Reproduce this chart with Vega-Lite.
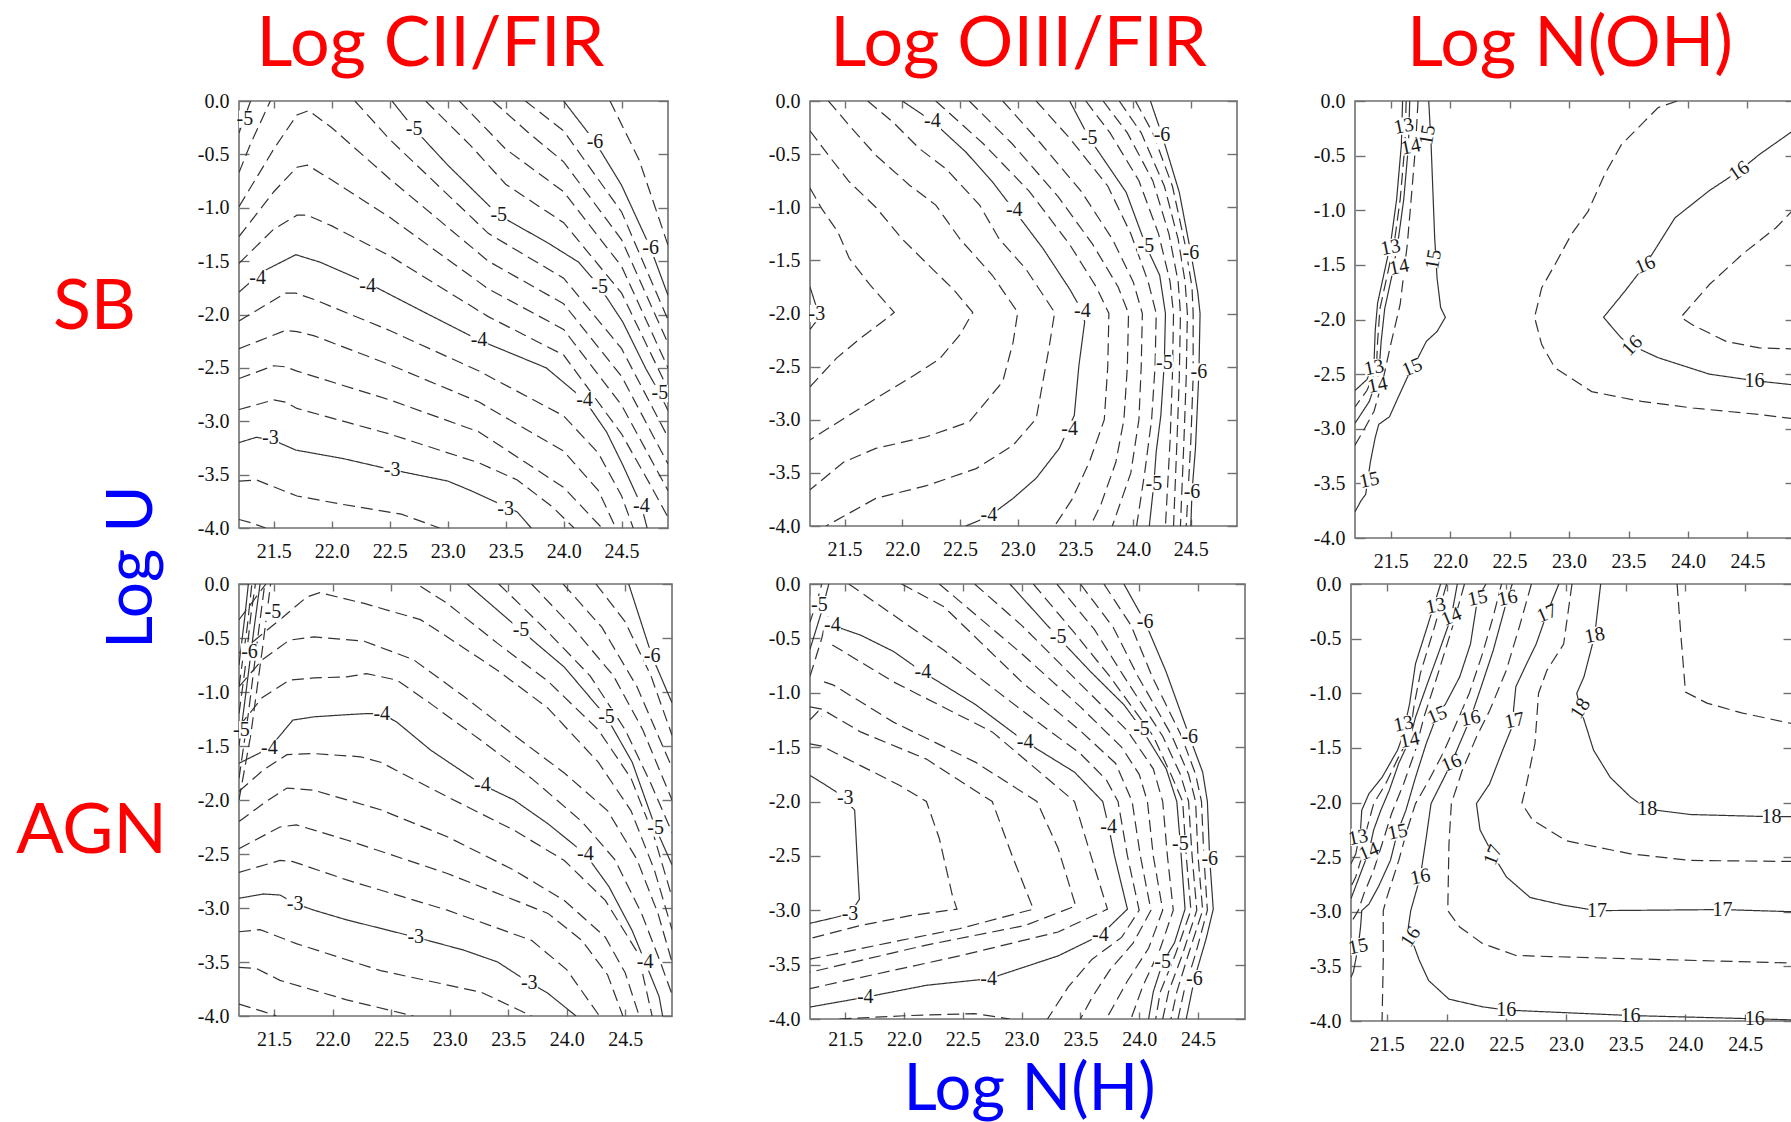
{
"$schema": "https://vega.github.io/schema/vega-lite/v6.json",
"padding": {"left": 14, "top": 9, "right": 0, "bottom": 0},
"background": "#ffffff",
"config": {
 "view": {"stroke": "#707070", "strokeWidth": 1.6},
 "axis": {"domain": false, "grid": false, "tickColor": "#707070", "tickWidth": 1.4, "labelFont": "Liberation Serif", "labelFontSize": 20, "labelColor": "#111111"},
 "locale": {"number": {"decimal": ".", "thousands": ",", "grouping": [3], "currency": ["$", ""], "minus": "-"}}
},
"title": {"text": "Log U", "orient": "left", "anchor": "middle", "frame": "group", "color": "#0000ff", "font": "Lato", "fontSize": 64, "fontWeight": "normal", "baseline": "alphabetic", "offset": -201, "dx": -466},
"datasets": {
"lines": [
{"p":1,"c":"m26","s":"d","x":21.2,"y":-3.92},{"p":1,"c":"m26","s":"d","x":21.3,"y":-3.95},{"p":1,"c":"m26","s":"d","x":21.43,"y":-4.0},
{"p":1,"c":"m28","s":"d","x":21.2,"y":-3.56},{"p":1,"c":"m28","s":"d","x":21.35,"y":-3.55},{"p":1,"c":"m28","s":"d","x":21.7,"y":-3.7},{"p":1,"c":"m28","s":"d","x":22.1,"y":-3.78},{"p":1,"c":"m28","s":"d","x":22.6,"y":-3.87},{"p":1,"c":"m28","s":"d","x":22.93,"y":-4.0},
{"p":1,"c":"m30","s":"s","x":21.2,"y":-3.2},{"p":1,"c":"m30","s":"s","x":21.35,"y":-3.15},{"p":1,"c":"m30","s":"s","x":21.5,"y":-3.18},{"p":1,"c":"m30","s":"s","x":21.69,"y":-3.27},{"p":1,"c":"m30","s":"s","x":22.1,"y":-3.35},{"p":1,"c":"m30","s":"s","x":22.5,"y":-3.45},{"p":1,"c":"m30","s":"s","x":23.0,"y":-3.56},{"p":1,"c":"m30","s":"s","x":23.2,"y":-3.65},{"p":1,"c":"m30","s":"s","x":23.5,"y":-3.8},{"p":1,"c":"m30","s":"s","x":23.6,"y":-3.85},{"p":1,"c":"m30","s":"s","x":23.72,"y":-4.0},
{"p":1,"c":"m32","s":"d","x":21.2,"y":-2.89},{"p":1,"c":"m32","s":"d","x":21.5,"y":-2.8},{"p":1,"c":"m32","s":"d","x":21.6,"y":-2.82},{"p":1,"c":"m32","s":"d","x":21.7,"y":-2.88},{"p":1,"c":"m32","s":"d","x":22.5,"y":-3.12},{"p":1,"c":"m32","s":"d","x":23.27,"y":-3.39},{"p":1,"c":"m32","s":"d","x":23.6,"y":-3.55},{"p":1,"c":"m32","s":"d","x":23.9,"y":-3.8},{"p":1,"c":"m32","s":"d","x":24.09,"y":-4.0},
{"p":1,"c":"m34","s":"d","x":21.2,"y":-2.6},{"p":1,"c":"m34","s":"d","x":21.5,"y":-2.48},{"p":1,"c":"m34","s":"d","x":21.6,"y":-2.49},{"p":1,"c":"m34","s":"d","x":21.7,"y":-2.53},{"p":1,"c":"m34","s":"d","x":22.5,"y":-2.8},{"p":1,"c":"m34","s":"d","x":23.27,"y":-3.1},{"p":1,"c":"m34","s":"d","x":24.0,"y":-3.62},{"p":1,"c":"m34","s":"d","x":24.33,"y":-4.0},
{"p":1,"c":"m36","s":"d","x":21.2,"y":-2.32},{"p":1,"c":"m36","s":"d","x":21.6,"y":-2.15},{"p":1,"c":"m36","s":"d","x":21.7,"y":-2.16},{"p":1,"c":"m36","s":"d","x":21.85,"y":-2.2},{"p":1,"c":"m36","s":"d","x":22.5,"y":-2.47},{"p":1,"c":"m36","s":"d","x":23.27,"y":-2.82},{"p":1,"c":"m36","s":"d","x":24.0,"y":-3.28},{"p":1,"c":"m36","s":"d","x":24.3,"y":-3.65},{"p":1,"c":"m36","s":"d","x":24.45,"y":-4.0},
{"p":1,"c":"m38","s":"d","x":21.2,"y":-2.06},{"p":1,"c":"m38","s":"d","x":21.6,"y":-1.8},{"p":1,"c":"m38","s":"d","x":21.69,"y":-1.8},{"p":1,"c":"m38","s":"d","x":21.85,"y":-1.86},{"p":1,"c":"m38","s":"d","x":22.5,"y":-2.15},{"p":1,"c":"m38","s":"d","x":23.27,"y":-2.53},{"p":1,"c":"m38","s":"d","x":24.0,"y":-2.95},{"p":1,"c":"m38","s":"d","x":24.3,"y":-3.3},{"p":1,"c":"m38","s":"d","x":24.5,"y":-3.7},{"p":1,"c":"m38","s":"d","x":24.6,"y":-4.0},
{"p":1,"c":"m40","s":"s","x":21.2,"y":-1.79},{"p":1,"c":"m40","s":"s","x":21.4,"y":-1.6},{"p":1,"c":"m40","s":"s","x":21.69,"y":-1.44},{"p":1,"c":"m40","s":"s","x":21.9,"y":-1.51},{"p":1,"c":"m40","s":"s","x":22.3,"y":-1.7},{"p":1,"c":"m40","s":"s","x":22.8,"y":-1.98},{"p":1,"c":"m40","s":"s","x":23.27,"y":-2.24},{"p":1,"c":"m40","s":"s","x":23.85,"y":-2.5},{"p":1,"c":"m40","s":"s","x":24.18,"y":-2.8},{"p":1,"c":"m40","s":"s","x":24.37,"y":-3.1},{"p":1,"c":"m40","s":"s","x":24.51,"y":-3.41},{"p":1,"c":"m40","s":"s","x":24.67,"y":-3.79},{"p":1,"c":"m40","s":"s","x":24.72,"y":-4.0},
{"p":1,"c":"m42","s":"d","x":21.2,"y":-1.52},{"p":1,"c":"m42","s":"d","x":21.5,"y":-1.2},{"p":1,"c":"m42","s":"d","x":21.7,"y":-1.07},{"p":1,"c":"m42","s":"d","x":21.79,"y":-1.07},{"p":1,"c":"m42","s":"d","x":22.0,"y":-1.17},{"p":1,"c":"m42","s":"d","x":22.5,"y":-1.45},{"p":1,"c":"m42","s":"d","x":23.35,"y":-2.02},{"p":1,"c":"m42","s":"d","x":24.0,"y":-2.38},{"p":1,"c":"m42","s":"d","x":24.5,"y":-3.12},{"p":1,"c":"m42","s":"d","x":24.75,"y":-3.6},{"p":1,"c":"m42","s":"d","x":24.9,"y":-3.9},
{"p":1,"c":"m44","s":"d","x":21.2,"y":-1.27},{"p":1,"c":"m44","s":"d","x":21.5,"y":-0.85},{"p":1,"c":"m44","s":"d","x":21.7,"y":-0.62},{"p":1,"c":"m44","s":"d","x":21.79,"y":-0.6},{"p":1,"c":"m44","s":"d","x":22.0,"y":-0.74},{"p":1,"c":"m44","s":"d","x":22.5,"y":-1.09},{"p":1,"c":"m44","s":"d","x":23.35,"y":-1.76},{"p":1,"c":"m44","s":"d","x":24.0,"y":-2.14},{"p":1,"c":"m44","s":"d","x":24.5,"y":-2.85},{"p":1,"c":"m44","s":"d","x":24.9,"y":-3.65},
{"p":1,"c":"m46","s":"d","x":21.2,"y":-0.99},{"p":1,"c":"m46","s":"d","x":21.5,"y":-0.45},{"p":1,"c":"m46","s":"d","x":21.7,"y":-0.13},{"p":1,"c":"m46","s":"d","x":21.8,"y":-0.09},{"p":1,"c":"m46","s":"d","x":22.0,"y":-0.25},{"p":1,"c":"m46","s":"d","x":22.5,"y":-0.73},{"p":1,"c":"m46","s":"d","x":23.35,"y":-1.5},{"p":1,"c":"m46","s":"d","x":24.0,"y":-1.9},{"p":1,"c":"m46","s":"d","x":24.5,"y":-2.58},{"p":1,"c":"m46","s":"d","x":24.9,"y":-3.4},
{"p":1,"c":"m48a","s":"d","x":21.2,"y":-0.67},{"p":1,"c":"m48a","s":"d","x":21.3,"y":-0.4},{"p":1,"c":"m48a","s":"d","x":21.47,"y":0},
{"p":1,"c":"m48b","s":"d","x":22.2,"y":0},{"p":1,"c":"m48b","s":"d","x":22.5,"y":-0.36},{"p":1,"c":"m48b","s":"d","x":23.35,"y":-1.24},{"p":1,"c":"m48b","s":"d","x":24.0,"y":-1.66},{"p":1,"c":"m48b","s":"d","x":24.5,"y":-2.32},{"p":1,"c":"m48b","s":"d","x":24.9,"y":-3.15},
{"p":1,"c":"m50a","s":"s","x":21.2,"y":-0.3},{"p":1,"c":"m50a","s":"s","x":21.26,"y":-0.12},{"p":1,"c":"m50a","s":"s","x":21.3,"y":0},
{"p":1,"c":"m50b","s":"s","x":22.52,"y":0},{"p":1,"c":"m50b","s":"s","x":22.71,"y":-0.26},{"p":1,"c":"m50b","s":"s","x":23.0,"y":-0.6},{"p":1,"c":"m50b","s":"s","x":23.44,"y":-1.07},{"p":1,"c":"m50b","s":"s","x":23.85,"y":-1.32},{"p":1,"c":"m50b","s":"s","x":24.13,"y":-1.51},{"p":1,"c":"m50b","s":"s","x":24.31,"y":-1.74},{"p":1,"c":"m50b","s":"s","x":24.51,"y":-2.07},{"p":1,"c":"m50b","s":"s","x":24.71,"y":-2.51},{"p":1,"c":"m50b","s":"s","x":24.83,"y":-2.74},{"p":1,"c":"m50b","s":"s","x":24.9,"y":-2.9},
{"p":1,"c":"m52","s":"d","x":22.81,"y":0},{"p":1,"c":"m52","s":"d","x":23.2,"y":-0.42},{"p":1,"c":"m52","s":"d","x":23.5,"y":-0.78},{"p":1,"c":"m52","s":"d","x":24.0,"y":-1.14},{"p":1,"c":"m52","s":"d","x":24.5,"y":-1.8},{"p":1,"c":"m52","s":"d","x":24.9,"y":-2.7},
{"p":1,"c":"m54","s":"d","x":23.1,"y":0},{"p":1,"c":"m54","s":"d","x":23.5,"y":-0.45},{"p":1,"c":"m54","s":"d","x":24.0,"y":-0.85},{"p":1,"c":"m54","s":"d","x":24.5,"y":-1.55},{"p":1,"c":"m54","s":"d","x":24.9,"y":-2.5},
{"p":1,"c":"m56","s":"d","x":23.39,"y":0},{"p":1,"c":"m56","s":"d","x":23.7,"y":-0.3},{"p":1,"c":"m56","s":"d","x":24.0,"y":-0.57},{"p":1,"c":"m56","s":"d","x":24.5,"y":-1.3},{"p":1,"c":"m56","s":"d","x":24.9,"y":-2.27},
{"p":1,"c":"m58","s":"d","x":23.67,"y":0},{"p":1,"c":"m58","s":"d","x":24.0,"y":-0.28},{"p":1,"c":"m58","s":"d","x":24.5,"y":-1.04},{"p":1,"c":"m58","s":"d","x":24.9,"y":-2.05},
{"p":1,"c":"m60","s":"s","x":24.0,"y":0},{"p":1,"c":"m60","s":"s","x":24.27,"y":-0.38},{"p":1,"c":"m60","s":"s","x":24.5,"y":-0.79},{"p":1,"c":"m60","s":"s","x":24.75,"y":-1.38},{"p":1,"c":"m60","s":"s","x":24.9,"y":-1.82},
{"p":1,"c":"m62","s":"d","x":24.4,"y":0},{"p":1,"c":"m62","s":"d","x":24.65,"y":-0.55},{"p":1,"c":"m62","s":"d","x":24.9,"y":-1.35},

{"p":2,"c":"n30","s":"s","x":21.2,"y":-1.75},{"p":2,"c":"n30","s":"s","x":21.25,"y":-1.92},{"p":2,"c":"n30","s":"s","x":21.27,"y":-2.0},{"p":2,"c":"n30","s":"s","x":21.25,"y":-2.08},{"p":2,"c":"n30","s":"s","x":21.2,"y":-2.15},
{"p":2,"c":"n32","s":"d","x":21.2,"y":-0.82},{"p":2,"c":"n32","s":"d","x":21.3,"y":-1.01},{"p":2,"c":"n32","s":"d","x":21.44,"y":-1.23},{"p":2,"c":"n32","s":"d","x":21.54,"y":-1.48},{"p":2,"c":"n32","s":"d","x":21.72,"y":-1.73},{"p":2,"c":"n32","s":"d","x":21.93,"y":-1.99},{"p":2,"c":"n32","s":"d","x":21.86,"y":-2.05},{"p":2,"c":"n32","s":"d","x":21.63,"y":-2.24},{"p":2,"c":"n32","s":"d","x":21.43,"y":-2.42},{"p":2,"c":"n32","s":"d","x":21.2,"y":-2.69},
{"p":2,"c":"n34","s":"d","x":21.2,"y":-0.28},{"p":2,"c":"n34","s":"d","x":21.38,"y":-0.54},{"p":2,"c":"n34","s":"d","x":21.54,"y":-0.76},{"p":2,"c":"n34","s":"d","x":21.77,"y":-1.0},{"p":2,"c":"n34","s":"d","x":22.0,"y":-1.3},{"p":2,"c":"n34","s":"d","x":22.26,"y":-1.58},{"p":2,"c":"n34","s":"d","x":22.44,"y":-1.77},{"p":2,"c":"n34","s":"d","x":22.61,"y":-1.99},{"p":2,"c":"n34","s":"d","x":22.5,"y":-2.2},{"p":2,"c":"n34","s":"d","x":22.32,"y":-2.43},{"p":2,"c":"n34","s":"d","x":22.06,"y":-2.61},{"p":2,"c":"n34","s":"d","x":21.77,"y":-2.8},{"p":2,"c":"n34","s":"d","x":21.49,"y":-2.99},{"p":2,"c":"n34","s":"d","x":21.2,"y":-3.19},
{"p":2,"c":"n36","s":"d","x":21.36,"y":0},{"p":2,"c":"n36","s":"d","x":21.54,"y":-0.23},{"p":2,"c":"n36","s":"d","x":21.77,"y":-0.51},{"p":2,"c":"n36","s":"d","x":22.06,"y":-0.79},{"p":2,"c":"n36","s":"d","x":22.29,"y":-0.98},{"p":2,"c":"n36","s":"d","x":22.5,"y":-1.3},{"p":2,"c":"n36","s":"d","x":22.78,"y":-1.64},{"p":2,"c":"n36","s":"d","x":23.0,"y":-1.99},{"p":2,"c":"n36","s":"d","x":22.96,"y":-2.27},{"p":2,"c":"n36","s":"d","x":22.87,"y":-2.64},{"p":2,"c":"n36","s":"d","x":22.58,"y":-3.02},{"p":2,"c":"n36","s":"d","x":22.21,"y":-3.16},{"p":2,"c":"n36","s":"d","x":21.77,"y":-3.27},{"p":2,"c":"n36","s":"d","x":21.49,"y":-3.4},{"p":2,"c":"n36","s":"d","x":21.2,"y":-3.66},
{"p":2,"c":"n38","s":"d","x":21.7,"y":0},{"p":2,"c":"n38","s":"d","x":21.92,"y":-0.2},{"p":2,"c":"n38","s":"d","x":22.15,"y":-0.45},{"p":2,"c":"n38","s":"d","x":22.38,"y":-0.64},{"p":2,"c":"n38","s":"d","x":22.67,"y":-0.98},{"p":2,"c":"n38","s":"d","x":22.84,"y":-1.3},{"p":2,"c":"n38","s":"d","x":23.07,"y":-1.58},{"p":2,"c":"n38","s":"d","x":23.32,"y":-1.99},{"p":2,"c":"n38","s":"d","x":23.27,"y":-2.33},{"p":2,"c":"n38","s":"d","x":23.16,"y":-2.99},{"p":2,"c":"n38","s":"d","x":22.96,"y":-3.24},{"p":2,"c":"n38","s":"d","x":22.64,"y":-3.46},{"p":2,"c":"n38","s":"d","x":22.21,"y":-3.62},{"p":2,"c":"n38","s":"d","x":21.77,"y":-3.74},{"p":2,"c":"n38","s":"d","x":21.34,"y":-4.0},
{"p":2,"c":"n40","s":"s","x":22.0,"y":0},{"p":2,"c":"n40","s":"s","x":22.26,"y":-0.19},{"p":2,"c":"n40","s":"s","x":22.55,"y":-0.48},{"p":2,"c":"n40","s":"s","x":22.78,"y":-0.76},{"p":2,"c":"n40","s":"s","x":22.97,"y":-1.03},{"p":2,"c":"n40","s":"s","x":23.22,"y":-1.39},{"p":2,"c":"n40","s":"s","x":23.45,"y":-1.77},{"p":2,"c":"n40","s":"s","x":23.56,"y":-1.98},{"p":2,"c":"n40","s":"s","x":23.58,"y":-2.08},{"p":2,"c":"n40","s":"s","x":23.53,"y":-2.49},{"p":2,"c":"n40","s":"s","x":23.49,"y":-2.96},{"p":2,"c":"n40","s":"s","x":23.36,"y":-3.27},{"p":2,"c":"n40","s":"s","x":23.16,"y":-3.55},{"p":2,"c":"n40","s":"s","x":22.96,"y":-3.74},{"p":2,"c":"n40","s":"s","x":22.75,"y":-3.91},{"p":2,"c":"n40","s":"s","x":22.55,"y":-4.0},
{"p":2,"c":"n42","s":"d","x":22.29,"y":0},{"p":2,"c":"n42","s":"d","x":22.7,"y":-0.4},{"p":2,"c":"n42","s":"d","x":23.1,"y":-0.85},{"p":2,"c":"n42","s":"d","x":23.45,"y":-1.35},{"p":2,"c":"n42","s":"d","x":23.68,"y":-1.75},{"p":2,"c":"n42","s":"d","x":23.79,"y":-2.0},{"p":2,"c":"n42","s":"d","x":23.78,"y":-2.5},{"p":2,"c":"n42","s":"d","x":23.75,"y":-3.0},{"p":2,"c":"n42","s":"d","x":23.62,"y":-3.4},{"p":2,"c":"n42","s":"d","x":23.47,"y":-3.75},{"p":2,"c":"n42","s":"d","x":23.32,"y":-4.0},
{"p":2,"c":"n44","s":"d","x":22.58,"y":0},{"p":2,"c":"n44","s":"d","x":22.95,"y":-0.4},{"p":2,"c":"n44","s":"d","x":23.35,"y":-0.9},{"p":2,"c":"n44","s":"d","x":23.65,"y":-1.35},{"p":2,"c":"n44","s":"d","x":23.87,"y":-1.75},{"p":2,"c":"n44","s":"d","x":23.96,"y":-2.0},{"p":2,"c":"n44","s":"d","x":23.95,"y":-2.5},{"p":2,"c":"n44","s":"d","x":23.92,"y":-3.0},{"p":2,"c":"n44","s":"d","x":23.85,"y":-3.4},{"p":2,"c":"n44","s":"d","x":23.72,"y":-3.8},{"p":2,"c":"n44","s":"d","x":23.63,"y":-4.0},
{"p":2,"c":"n46","s":"d","x":22.87,"y":0},{"p":2,"c":"n46","s":"d","x":23.2,"y":-0.4},{"p":2,"c":"n46","s":"d","x":23.55,"y":-0.85},{"p":2,"c":"n46","s":"d","x":23.82,"y":-1.3},{"p":2,"c":"n46","s":"d","x":24.0,"y":-1.7},{"p":2,"c":"n46","s":"d","x":24.08,"y":-2.0},{"p":2,"c":"n46","s":"d","x":24.07,"y":-2.5},{"p":2,"c":"n46","s":"d","x":24.05,"y":-3.0},{"p":2,"c":"n46","s":"d","x":23.98,"y":-3.5},{"p":2,"c":"n46","s":"d","x":23.82,"y":-4.0},
{"p":2,"c":"n48","s":"d","x":23.16,"y":0},{"p":2,"c":"n48","s":"d","x":23.45,"y":-0.35},{"p":2,"c":"n48","s":"d","x":23.78,"y":-0.8},{"p":2,"c":"n48","s":"d","x":23.98,"y":-1.25},{"p":2,"c":"n48","s":"d","x":24.13,"y":-1.7},{"p":2,"c":"n48","s":"d","x":24.2,"y":-2.0},{"p":2,"c":"n48","s":"d","x":24.19,"y":-2.5},{"p":2,"c":"n48","s":"d","x":24.16,"y":-3.0},{"p":2,"c":"n48","s":"d","x":24.1,"y":-3.5},{"p":2,"c":"n48","s":"d","x":24.03,"y":-4.0},
{"p":2,"c":"n50","s":"s","x":23.45,"y":0},{"p":2,"c":"n50","s":"s","x":23.62,"y":-0.35},{"p":2,"c":"n50","s":"s","x":23.94,"y":-0.86},{"p":2,"c":"n50","s":"s","x":24.11,"y":-1.36},{"p":2,"c":"n50","s":"s","x":24.23,"y":-1.64},{"p":2,"c":"n50","s":"s","x":24.28,"y":-2.0},{"p":2,"c":"n50","s":"s","x":24.27,"y":-2.47},{"p":2,"c":"n50","s":"s","x":24.24,"y":-2.96},{"p":2,"c":"n50","s":"s","x":24.2,"y":-3.3},{"p":2,"c":"n50","s":"s","x":24.18,"y":-3.6},{"p":2,"c":"n50","s":"s","x":24.14,"y":-4.0},
{"p":2,"c":"n52","s":"d","x":23.59,"y":0},{"p":2,"c":"n52","s":"d","x":23.8,"y":-0.3},{"p":2,"c":"n52","s":"d","x":24.05,"y":-0.75},{"p":2,"c":"n52","s":"d","x":24.22,"y":-1.25},{"p":2,"c":"n52","s":"d","x":24.32,"y":-1.7},{"p":2,"c":"n52","s":"d","x":24.35,"y":-2.0},{"p":2,"c":"n52","s":"d","x":24.34,"y":-2.6},{"p":2,"c":"n52","s":"d","x":24.32,"y":-3.2},{"p":2,"c":"n52","s":"d","x":24.28,"y":-4.0},
{"p":2,"c":"n54","s":"d","x":23.74,"y":0},{"p":2,"c":"n54","s":"d","x":23.95,"y":-0.3},{"p":2,"c":"n54","s":"d","x":24.17,"y":-0.75},{"p":2,"c":"n54","s":"d","x":24.31,"y":-1.25},{"p":2,"c":"n54","s":"d","x":24.39,"y":-1.7},{"p":2,"c":"n54","s":"d","x":24.41,"y":-2.0},{"p":2,"c":"n54","s":"d","x":24.4,"y":-2.6},{"p":2,"c":"n54","s":"d","x":24.38,"y":-3.2},{"p":2,"c":"n54","s":"d","x":24.35,"y":-4.0},
{"p":2,"c":"n56","s":"d","x":23.88,"y":0},{"p":2,"c":"n56","s":"d","x":24.07,"y":-0.3},{"p":2,"c":"n56","s":"d","x":24.27,"y":-0.8},{"p":2,"c":"n56","s":"d","x":24.39,"y":-1.3},{"p":2,"c":"n56","s":"d","x":24.45,"y":-1.7},{"p":2,"c":"n56","s":"d","x":24.47,"y":-2.0},{"p":2,"c":"n56","s":"d","x":24.46,"y":-2.6},{"p":2,"c":"n56","s":"d","x":24.44,"y":-3.2},{"p":2,"c":"n56","s":"d","x":24.41,"y":-4.0},
{"p":2,"c":"n58","s":"d","x":24.02,"y":0},{"p":2,"c":"n58","s":"d","x":24.17,"y":-0.3},{"p":2,"c":"n58","s":"d","x":24.34,"y":-0.8},{"p":2,"c":"n58","s":"d","x":24.45,"y":-1.35},{"p":2,"c":"n58","s":"d","x":24.51,"y":-1.75},{"p":2,"c":"n58","s":"d","x":24.52,"y":-2.0},{"p":2,"c":"n58","s":"d","x":24.52,"y":-2.6},{"p":2,"c":"n58","s":"d","x":24.5,"y":-3.2},{"p":2,"c":"n58","s":"d","x":24.46,"y":-4.0},
{"p":2,"c":"n60","s":"s","x":24.15,"y":0},{"p":2,"c":"n60","s":"s","x":24.25,"y":-0.32},{"p":2,"c":"n60","s":"s","x":24.4,"y":-0.86},{"p":2,"c":"n60","s":"s","x":24.5,"y":-1.43},{"p":2,"c":"n60","s":"s","x":24.56,"y":-1.8},{"p":2,"c":"n60","s":"s","x":24.58,"y":-2.0},{"p":2,"c":"n60","s":"s","x":24.57,"y":-2.55},{"p":2,"c":"n60","s":"s","x":24.54,"y":-3.27},{"p":2,"c":"n60","s":"s","x":24.51,"y":-3.68},{"p":2,"c":"n60","s":"s","x":24.5,"y":-4.0},

{"p":3,"c":"o13","s":"s","x":21.6,"y":0},{"p":3,"c":"o13","s":"s","x":21.59,"y":-0.4},{"p":3,"c":"o13","s":"s","x":21.55,"y":-0.9},{"p":3,"c":"o13","s":"s","x":21.5,"y":-1.3},{"p":3,"c":"o13","s":"s","x":21.44,"y":-1.6},{"p":3,"c":"o13","s":"s","x":21.39,"y":-1.85},{"p":3,"c":"o13","s":"s","x":21.37,"y":-2.1},{"p":3,"c":"o13","s":"s","x":21.36,"y":-2.4},{"p":3,"c":"o13","s":"s","x":21.3,"y":-2.55},{"p":3,"c":"o13","s":"s","x":21.2,"y":-2.65},
{"p":3,"c":"o135","s":"d","x":21.63,"y":0},{"p":3,"c":"o135","s":"d","x":21.62,"y":-0.4},{"p":3,"c":"o135","s":"d","x":21.58,"y":-0.9},{"p":3,"c":"o135","s":"d","x":21.53,"y":-1.3},{"p":3,"c":"o135","s":"d","x":21.47,"y":-1.6},{"p":3,"c":"o135","s":"d","x":21.41,"y":-1.9},{"p":3,"c":"o135","s":"d","x":21.39,"y":-2.2},{"p":3,"c":"o135","s":"d","x":21.38,"y":-2.45},{"p":3,"c":"o135","s":"d","x":21.3,"y":-2.65},{"p":3,"c":"o135","s":"d","x":21.2,"y":-2.8},
{"p":3,"c":"o14","s":"s","x":21.66,"y":0},{"p":3,"c":"o14","s":"s","x":21.65,"y":-0.4},{"p":3,"c":"o14","s":"s","x":21.61,"y":-0.9},{"p":3,"c":"o14","s":"s","x":21.56,"y":-1.3},{"p":3,"c":"o14","s":"s","x":21.51,"y":-1.6},{"p":3,"c":"o14","s":"s","x":21.45,"y":-1.9},{"p":3,"c":"o14","s":"s","x":21.42,"y":-2.2},{"p":3,"c":"o14","s":"s","x":21.4,"y":-2.5},{"p":3,"c":"o14","s":"s","x":21.32,"y":-2.75},{"p":3,"c":"o14","s":"s","x":21.2,"y":-2.95},
{"p":3,"c":"o145","s":"d","x":21.73,"y":0},{"p":3,"c":"o145","s":"d","x":21.71,"y":-0.4},{"p":3,"c":"o145","s":"d","x":21.68,"y":-0.8},{"p":3,"c":"o145","s":"d","x":21.64,"y":-1.31},{"p":3,"c":"o145","s":"d","x":21.58,"y":-1.86},{"p":3,"c":"o145","s":"d","x":21.5,"y":-2.23},{"p":3,"c":"o145","s":"d","x":21.44,"y":-2.53},{"p":3,"c":"o145","s":"d","x":21.36,"y":-2.84},{"p":3,"c":"o145","s":"d","x":21.28,"y":-3.0},{"p":3,"c":"o145","s":"d","x":21.2,"y":-3.15},
{"p":3,"c":"o15","s":"s","x":21.82,"y":0},{"p":3,"c":"o15","s":"s","x":21.84,"y":-0.4},{"p":3,"c":"o15","s":"s","x":21.87,"y":-1.25},{"p":3,"c":"o15","s":"s","x":21.89,"y":-1.62},{"p":3,"c":"o15","s":"s","x":21.92,"y":-1.89},{"p":3,"c":"o15","s":"s","x":21.96,"y":-1.98},{"p":3,"c":"o15","s":"s","x":21.89,"y":-2.11},{"p":3,"c":"o15","s":"s","x":21.8,"y":-2.2},{"p":3,"c":"o15","s":"s","x":21.73,"y":-2.35},{"p":3,"c":"o15","s":"s","x":21.64,"y":-2.53},{"p":3,"c":"o15","s":"s","x":21.56,"y":-2.72},{"p":3,"c":"o15","s":"s","x":21.49,"y":-2.89},{"p":3,"c":"o15","s":"s","x":21.4,"y":-2.96},{"p":3,"c":"o15","s":"s","x":21.37,"y":-3.08},{"p":3,"c":"o15","s":"s","x":21.33,"y":-3.3},{"p":3,"c":"o15","s":"s","x":21.29,"y":-3.6},{"p":3,"c":"o15","s":"s","x":21.25,"y":-3.66},{"p":3,"c":"o15","s":"s","x":21.2,"y":-3.76},
{"p":3,"c":"o155","s":"d","x":23.91,"y":0},{"p":3,"c":"o155","s":"d","x":23.75,"y":-0.06},{"p":3,"c":"o155","s":"d","x":23.64,"y":-0.18},{"p":3,"c":"o155","s":"d","x":23.44,"y":-0.4},{"p":3,"c":"o155","s":"d","x":23.3,"y":-0.67},{"p":3,"c":"o155","s":"d","x":23.16,"y":-1.01},{"p":3,"c":"o155","s":"d","x":23.02,"y":-1.22},{"p":3,"c":"o155","s":"d","x":22.88,"y":-1.5},{"p":3,"c":"o155","s":"d","x":22.77,"y":-1.71},{"p":3,"c":"o155","s":"d","x":22.71,"y":-1.98},{"p":3,"c":"o155","s":"d","x":22.77,"y":-2.23},{"p":3,"c":"o155","s":"d","x":22.88,"y":-2.44},{"p":3,"c":"o155","s":"d","x":23.19,"y":-2.66},{"p":3,"c":"o155","s":"d","x":23.61,"y":-2.75},{"p":3,"c":"o155","s":"d","x":24.04,"y":-2.81},{"p":3,"c":"o155","s":"d","x":24.6,"y":-2.87},{"p":3,"c":"o155","s":"d","x":24.9,"y":-2.91},
{"p":3,"c":"o16","s":"s","x":24.9,"y":-0.26},{"p":3,"c":"o16","s":"s","x":24.6,"y":-0.49},{"p":3,"c":"o16","s":"s","x":24.43,"y":-0.64},{"p":3,"c":"o16","s":"s","x":24.18,"y":-0.82},{"p":3,"c":"o16","s":"s","x":23.89,"y":-1.07},{"p":3,"c":"o16","s":"s","x":23.7,"y":-1.4},{"p":3,"c":"o16","s":"s","x":23.64,"y":-1.5},{"p":3,"c":"o16","s":"s","x":23.47,"y":-1.74},{"p":3,"c":"o16","s":"s","x":23.29,"y":-1.98},{"p":3,"c":"o16","s":"s","x":23.44,"y":-2.17},{"p":3,"c":"o16","s":"s","x":23.53,"y":-2.24},{"p":3,"c":"o16","s":"s","x":23.75,"y":-2.35},{"p":3,"c":"o16","s":"s","x":24.18,"y":-2.5},{"p":3,"c":"o16","s":"s","x":24.56,"y":-2.56},{"p":3,"c":"o16","s":"s","x":24.9,"y":-2.6},
{"p":3,"c":"o165","s":"d","x":24.9,"y":-0.98},{"p":3,"c":"o165","s":"d","x":24.74,"y":-1.16},{"p":3,"c":"o165","s":"d","x":24.46,"y":-1.4},{"p":3,"c":"o165","s":"d","x":24.18,"y":-1.68},{"p":3,"c":"o165","s":"d","x":23.94,"y":-1.98},{"p":3,"c":"o165","s":"d","x":24.04,"y":-2.05},{"p":3,"c":"o165","s":"d","x":24.32,"y":-2.2},{"p":3,"c":"o165","s":"d","x":24.6,"y":-2.26},{"p":3,"c":"o165","s":"d","x":24.9,"y":-2.27},

{"p":4,"c":"a24","s":"d","x":21.2,"y":-3.89},{"p":4,"c":"a24","s":"d","x":21.41,"y":-3.96},{"p":4,"c":"a24","s":"d","x":21.52,"y":-4.0},
{"p":4,"c":"a26","s":"d","x":21.2,"y":-3.55},{"p":4,"c":"a26","s":"d","x":21.35,"y":-3.56},{"p":4,"c":"a26","s":"d","x":21.55,"y":-3.67},{"p":4,"c":"a26","s":"d","x":22.12,"y":-3.85},{"p":4,"c":"a26","s":"d","x":22.69,"y":-4.0},
{"p":4,"c":"a28","s":"d","x":21.2,"y":-3.22},{"p":4,"c":"a28","s":"d","x":21.38,"y":-3.2},{"p":4,"c":"a28","s":"d","x":21.69,"y":-3.33},{"p":4,"c":"a28","s":"d","x":22.41,"y":-3.58},{"p":4,"c":"a28","s":"d","x":23.27,"y":-3.78},{"p":4,"c":"a28","s":"d","x":23.7,"y":-4.0},
{"p":4,"c":"a30","s":"s","x":21.2,"y":-2.91},{"p":4,"c":"a30","s":"s","x":21.41,"y":-2.87},{"p":4,"c":"a30","s":"s","x":21.55,"y":-2.88},{"p":4,"c":"a30","s":"s","x":21.68,"y":-2.96},{"p":4,"c":"a30","s":"s","x":21.84,"y":-3.02},{"p":4,"c":"a30","s":"s","x":22.12,"y":-3.11},{"p":4,"c":"a30","s":"s","x":22.71,"y":-3.27},{"p":4,"c":"a30","s":"s","x":23.12,"y":-3.39},{"p":4,"c":"a30","s":"s","x":23.41,"y":-3.5},{"p":4,"c":"a30","s":"s","x":23.68,"y":-3.69},{"p":4,"c":"a30","s":"s","x":23.84,"y":-3.79},{"p":4,"c":"a30","s":"s","x":24.08,"y":-4.0},
{"p":4,"c":"a32","s":"d","x":21.2,"y":-2.67},{"p":4,"c":"a32","s":"d","x":21.55,"y":-2.56},{"p":4,"c":"a32","s":"d","x":21.66,"y":-2.57},{"p":4,"c":"a32","s":"d","x":22.12,"y":-2.74},{"p":4,"c":"a32","s":"d","x":22.98,"y":-3.02},{"p":4,"c":"a32","s":"d","x":23.7,"y":-3.3},{"p":4,"c":"a32","s":"d","x":24.0,"y":-3.57},{"p":4,"c":"a32","s":"d","x":24.28,"y":-4.0},
{"p":4,"c":"a34","s":"d","x":21.2,"y":-2.45},{"p":4,"c":"a34","s":"d","x":21.55,"y":-2.25},{"p":4,"c":"a34","s":"d","x":21.69,"y":-2.23},{"p":4,"c":"a34","s":"d","x":22.12,"y":-2.37},{"p":4,"c":"a34","s":"d","x":22.98,"y":-2.68},{"p":4,"c":"a34","s":"d","x":23.84,"y":-3.05},{"p":4,"c":"a34","s":"d","x":24.13,"y":-3.3},{"p":4,"c":"a34","s":"d","x":24.35,"y":-3.62},{"p":4,"c":"a34","s":"d","x":24.48,"y":-4.0},
{"p":4,"c":"a36","s":"d","x":21.2,"y":-2.2},{"p":4,"c":"a36","s":"d","x":21.41,"y":-2.03},{"p":4,"c":"a36","s":"d","x":21.61,"y":-1.89},{"p":4,"c":"a36","s":"d","x":21.84,"y":-1.91},{"p":4,"c":"a36","s":"d","x":22.41,"y":-2.09},{"p":4,"c":"a36","s":"d","x":22.98,"y":-2.34},{"p":4,"c":"a36","s":"d","x":23.55,"y":-2.65},{"p":4,"c":"a36","s":"d","x":23.98,"y":-2.93},{"p":4,"c":"a36","s":"d","x":24.33,"y":-3.27},{"p":4,"c":"a36","s":"d","x":24.5,"y":-3.6},{"p":4,"c":"a36","s":"d","x":24.62,"y":-4.0},
{"p":4,"c":"a38","s":"d","x":21.2,"y":-1.92},{"p":4,"c":"a38","s":"d","x":21.41,"y":-1.72},{"p":4,"c":"a38","s":"d","x":21.61,"y":-1.58},{"p":4,"c":"a38","s":"d","x":21.84,"y":-1.57},{"p":4,"c":"a38","s":"d","x":22.24,"y":-1.6},{"p":4,"c":"a38","s":"d","x":22.41,"y":-1.65},{"p":4,"c":"a38","s":"d","x":22.98,"y":-1.97},{"p":4,"c":"a38","s":"d","x":23.55,"y":-2.28},{"p":4,"c":"a38","s":"d","x":23.98,"y":-2.56},{"p":4,"c":"a38","s":"d","x":24.33,"y":-2.93},{"p":4,"c":"a38","s":"d","x":24.61,"y":-3.42},{"p":4,"c":"a38","s":"d","x":24.73,"y":-4.0},
{"p":4,"c":"a40","s":"s","x":21.2,"y":-1.66},{"p":4,"c":"a40","s":"s","x":21.46,"y":-1.52},{"p":4,"c":"a40","s":"s","x":21.66,"y":-1.26},{"p":4,"c":"a40","s":"s","x":21.84,"y":-1.23},{"p":4,"c":"a40","s":"s","x":22.12,"y":-1.21},{"p":4,"c":"a40","s":"s","x":22.29,"y":-1.2},{"p":4,"c":"a40","s":"s","x":22.42,"y":-1.2},{"p":4,"c":"a40","s":"s","x":22.55,"y":-1.28},{"p":4,"c":"a40","s":"s","x":22.84,"y":-1.54},{"p":4,"c":"a40","s":"s","x":23.28,"y":-1.86},{"p":4,"c":"a40","s":"s","x":23.55,"y":-2.0},{"p":4,"c":"a40","s":"s","x":23.84,"y":-2.22},{"p":4,"c":"a40","s":"s","x":24.16,"y":-2.5},{"p":4,"c":"a40","s":"s","x":24.36,"y":-2.8},{"p":4,"c":"a40","s":"s","x":24.56,"y":-3.21},{"p":4,"c":"a40","s":"s","x":24.67,"y":-3.5},{"p":4,"c":"a40","s":"s","x":24.79,"y":-3.82},{"p":4,"c":"a40","s":"s","x":24.82,"y":-4.0},
{"p":4,"c":"a42","s":"d","x":21.2,"y":-1.32},{"p":4,"c":"a42","s":"d","x":21.4,"y":-1.05},{"p":4,"c":"a42","s":"d","x":21.63,"y":-0.89},{"p":4,"c":"a42","s":"d","x":21.84,"y":-0.87},{"p":4,"c":"a42","s":"d","x":22.12,"y":-0.86},{"p":4,"c":"a42","s":"d","x":22.29,"y":-0.83},{"p":4,"c":"a42","s":"d","x":22.55,"y":-0.89},{"p":4,"c":"a42","s":"d","x":22.84,"y":-1.11},{"p":4,"c":"a42","s":"d","x":23.27,"y":-1.45},{"p":4,"c":"a42","s":"d","x":23.7,"y":-1.8},{"p":4,"c":"a42","s":"d","x":24.13,"y":-2.2},{"p":4,"c":"a42","s":"d","x":24.41,"y":-2.55},{"p":4,"c":"a42","s":"d","x":24.64,"y":-3.05},{"p":4,"c":"a42","s":"d","x":24.8,"y":-3.5},{"p":4,"c":"a42","s":"d","x":24.9,"y":-3.8},
{"p":4,"c":"a44","s":"d","x":21.2,"y":-0.95},{"p":4,"c":"a44","s":"d","x":21.4,"y":-0.7},{"p":4,"c":"a44","s":"d","x":21.63,"y":-0.52},{"p":4,"c":"a44","s":"d","x":21.84,"y":-0.49},{"p":4,"c":"a44","s":"d","x":22.27,"y":-0.53},{"p":4,"c":"a44","s":"d","x":22.69,"y":-0.7},{"p":4,"c":"a44","s":"d","x":23.12,"y":-1.04},{"p":4,"c":"a44","s":"d","x":23.55,"y":-1.4},{"p":4,"c":"a44","s":"d","x":23.98,"y":-1.75},{"p":4,"c":"a44","s":"d","x":24.35,"y":-2.1},{"p":4,"c":"a44","s":"d","x":24.6,"y":-2.55},{"p":4,"c":"a44","s":"d","x":24.78,"y":-3.05},{"p":4,"c":"a44","s":"d","x":24.9,"y":-3.5},
{"p":4,"c":"a46","s":"d","x":21.2,"y":-0.64},{"p":4,"c":"a46","s":"d","x":21.55,"y":-0.33},{"p":4,"c":"a46","s":"d","x":21.78,"y":-0.12},{"p":4,"c":"a46","s":"d","x":21.89,"y":-0.08},{"p":4,"c":"a46","s":"d","x":22.27,"y":-0.18},{"p":4,"c":"a46","s":"d","x":22.75,"y":-0.33},{"p":4,"c":"a46","s":"d","x":22.98,"y":-0.49},{"p":4,"c":"a46","s":"d","x":23.41,"y":-0.8},{"p":4,"c":"a46","s":"d","x":23.84,"y":-1.15},{"p":4,"c":"a46","s":"d","x":24.27,"y":-1.65},{"p":4,"c":"a46","s":"d","x":24.55,"y":-2.1},{"p":4,"c":"a46","s":"d","x":24.75,"y":-2.65},{"p":4,"c":"a46","s":"d","x":24.9,"y":-3.2},
{"p":4,"c":"a48a","s":"d","x":21.2,"y":-0.33},{"p":4,"c":"a48a","s":"d","x":21.43,"y":0},
{"p":4,"c":"a48b","s":"d","x":22.75,"y":-0.02},{"p":4,"c":"a48b","s":"d","x":22.98,"y":-0.18},{"p":4,"c":"a48b","s":"d","x":23.41,"y":-0.55},{"p":4,"c":"a48b","s":"d","x":23.84,"y":-0.9},{"p":4,"c":"a48b","s":"d","x":24.27,"y":-1.35},{"p":4,"c":"a48b","s":"d","x":24.55,"y":-1.8},{"p":4,"c":"a48b","s":"d","x":24.75,"y":-2.35},{"p":4,"c":"a48b","s":"d","x":24.9,"y":-2.9},
{"p":4,"c":"a50","s":"s","x":23.15,"y":0},{"p":4,"c":"a50","s":"s","x":23.61,"y":-0.43},{"p":4,"c":"a50","s":"s","x":23.98,"y":-0.77},{"p":4,"c":"a50","s":"s","x":24.34,"y":-1.23},{"p":4,"c":"a50","s":"s","x":24.56,"y":-1.65},{"p":4,"c":"a50","s":"s","x":24.76,"y":-2.26},{"p":4,"c":"a50","s":"s","x":24.9,"y":-2.6},
{"p":4,"c":"a52","s":"d","x":23.42,"y":0},{"p":4,"c":"a52","s":"d","x":23.8,"y":-0.4},{"p":4,"c":"a52","s":"d","x":24.2,"y":-0.85},{"p":4,"c":"a52","s":"d","x":24.5,"y":-1.35},{"p":4,"c":"a52","s":"d","x":24.72,"y":-1.85},{"p":4,"c":"a52","s":"d","x":24.9,"y":-2.3},
{"p":4,"c":"a54","s":"d","x":23.7,"y":0},{"p":4,"c":"a54","s":"d","x":24.05,"y":-0.4},{"p":4,"c":"a54","s":"d","x":24.4,"y":-0.85},{"p":4,"c":"a54","s":"d","x":24.65,"y":-1.35},{"p":4,"c":"a54","s":"d","x":24.9,"y":-2.0},
{"p":4,"c":"a56","s":"d","x":23.97,"y":0},{"p":4,"c":"a56","s":"d","x":24.3,"y":-0.4},{"p":4,"c":"a56","s":"d","x":24.6,"y":-0.95},{"p":4,"c":"a56","s":"d","x":24.9,"y":-1.7},
{"p":4,"c":"a58","s":"d","x":24.25,"y":0},{"p":4,"c":"a58","s":"d","x":24.5,"y":-0.35},{"p":4,"c":"a58","s":"d","x":24.72,"y":-0.85},{"p":4,"c":"a58","s":"d","x":24.9,"y":-1.4},
{"p":4,"c":"a60","s":"s","x":24.53,"y":0},{"p":4,"c":"a60","s":"s","x":24.73,"y":-0.67},{"p":4,"c":"a60","s":"s","x":24.9,"y":-1.1},
{"p":4,"c":"c1","s":"d","x":21.2,"y":-2.0},{"p":4,"c":"c1","s":"d","x":21.3,"y":-1.4},{"p":4,"c":"c1","s":"d","x":21.4,"y":-0.6},{"p":4,"c":"c1","s":"d","x":21.47,"y":0},
{"p":4,"c":"c2","s":"d","x":21.2,"y":-1.8},{"p":4,"c":"c2","s":"d","x":21.28,"y":-1.2},{"p":4,"c":"c2","s":"d","x":21.36,"y":-0.5},{"p":4,"c":"c2","s":"d","x":21.42,"y":0},
{"p":4,"c":"c3","s":"s","x":21.2,"y":-1.5},{"p":4,"c":"c3","s":"s","x":21.26,"y":-1.0},{"p":4,"c":"c3","s":"s","x":21.33,"y":-0.4},{"p":4,"c":"c3","s":"s","x":21.38,"y":0},
{"p":4,"c":"c4","s":"d","x":21.2,"y":-1.2},{"p":4,"c":"c4","s":"d","x":21.25,"y":-0.8},{"p":4,"c":"c4","s":"d","x":21.3,"y":-0.3},{"p":4,"c":"c4","s":"d","x":21.34,"y":0},
{"p":4,"c":"c5","s":"d","x":21.2,"y":-0.95},{"p":4,"c":"c5","s":"d","x":21.27,"y":-0.4},{"p":4,"c":"c5","s":"d","x":21.31,"y":0},
{"p":4,"c":"c6","s":"s","x":21.2,"y":-0.75},{"p":4,"c":"c6","s":"s","x":21.25,"y":-0.3},{"p":4,"c":"c6","s":"s","x":21.28,"y":0},

{"p":5,"c":"b30","s":"s","x":21.2,"y":-1.76},{"p":5,"c":"b30","s":"s","x":21.32,"y":-1.84},{"p":5,"c":"b30","s":"s","x":21.45,"y":-1.93},{"p":5,"c":"b30","s":"s","x":21.58,"y":-2.08},{"p":5,"c":"b30","s":"s","x":21.6,"y":-2.5},{"p":5,"c":"b30","s":"s","x":21.62,"y":-2.9},{"p":5,"c":"b30","s":"s","x":21.54,"y":-3.03},{"p":5,"c":"b30","s":"s","x":21.4,"y":-3.07},{"p":5,"c":"b30","s":"s","x":21.2,"y":-3.12},
{"p":5,"c":"b32","s":"d","x":21.2,"y":-1.47},{"p":5,"c":"b32","s":"d","x":21.3,"y":-1.49},{"p":5,"c":"b32","s":"d","x":21.63,"y":-1.67},{"p":5,"c":"b32","s":"d","x":21.96,"y":-1.85},{"p":5,"c":"b32","s":"d","x":22.19,"y":-2.0},{"p":5,"c":"b32","s":"d","x":22.3,"y":-2.34},{"p":5,"c":"b32","s":"d","x":22.41,"y":-2.86},{"p":5,"c":"b32","s":"d","x":22.45,"y":-2.99},{"p":5,"c":"b32","s":"d","x":22.05,"y":-3.05},{"p":5,"c":"b32","s":"d","x":21.63,"y":-3.14},{"p":5,"c":"b32","s":"d","x":21.2,"y":-3.26},
{"p":5,"c":"b34","s":"d","x":21.2,"y":-1.13},{"p":5,"c":"b34","s":"d","x":21.3,"y":-1.15},{"p":5,"c":"b34","s":"d","x":21.63,"y":-1.36},{"p":5,"c":"b34","s":"d","x":22.19,"y":-1.61},{"p":5,"c":"b34","s":"d","x":22.75,"y":-2.0},{"p":5,"c":"b34","s":"d","x":22.92,"y":-2.5},{"p":5,"c":"b34","s":"d","x":23.1,"y":-2.99},{"p":5,"c":"b34","s":"d","x":22.47,"y":-3.17},{"p":5,"c":"b34","s":"d","x":21.91,"y":-3.29},{"p":5,"c":"b34","s":"d","x":21.2,"y":-3.45},
{"p":5,"c":"b36","s":"d","x":21.32,"y":-0.9},{"p":5,"c":"b36","s":"d","x":21.4,"y":-0.93},{"p":5,"c":"b36","s":"d","x":21.91,"y":-1.27},{"p":5,"c":"b36","s":"d","x":22.61,"y":-1.64},{"p":5,"c":"b36","s":"d","x":23.13,"y":-2.0},{"p":5,"c":"b36","s":"d","x":23.31,"y":-2.43},{"p":5,"c":"b36","s":"d","x":23.46,"y":-2.96},{"p":5,"c":"b36","s":"d","x":23.03,"y":-3.14},{"p":5,"c":"b36","s":"d","x":22.19,"y":-3.32},{"p":5,"c":"b36","s":"d","x":21.2,"y":-3.57},
{"p":5,"c":"b38","s":"d","x":21.39,"y":-0.56},{"p":5,"c":"b38","s":"d","x":21.91,"y":-0.9},{"p":5,"c":"b38","s":"d","x":22.75,"y":-1.36},{"p":5,"c":"b38","s":"d","x":23.45,"y":-2.0},{"p":5,"c":"b38","s":"d","x":23.59,"y":-2.5},{"p":5,"c":"b38","s":"d","x":23.73,"y":-2.99},{"p":5,"c":"b38","s":"d","x":23.31,"y":-3.2},{"p":5,"c":"b38","s":"d","x":22.47,"y":-3.42},{"p":5,"c":"b38","s":"d","x":21.2,"y":-3.72},
{"p":5,"c":"b40","s":"s","x":21.35,"y":-0.3},{"p":5,"c":"b40","s":"s","x":21.39,"y":-0.38},{"p":5,"c":"b40","s":"s","x":21.63,"y":-0.47},{"p":5,"c":"b40","s":"s","x":21.91,"y":-0.62},{"p":5,"c":"b40","s":"s","x":22.16,"y":-0.81},{"p":5,"c":"b40","s":"s","x":22.61,"y":-1.11},{"p":5,"c":"b40","s":"s","x":23.03,"y":-1.45},{"p":5,"c":"b40","s":"s","x":23.45,"y":-1.73},{"p":5,"c":"b40","s":"s","x":23.69,"y":-2.0},{"p":5,"c":"b40","s":"s","x":23.74,"y":-2.23},{"p":5,"c":"b40","s":"s","x":23.79,"y":-2.5},{"p":5,"c":"b40","s":"s","x":23.9,"y":-2.99},{"p":5,"c":"b40","s":"s","x":23.67,"y":-3.23},{"p":5,"c":"b40","s":"s","x":23.31,"y":-3.42},{"p":5,"c":"b40","s":"s","x":22.72,"y":-3.63},{"p":5,"c":"b40","s":"s","x":22.19,"y":-3.69},{"p":5,"c":"b40","s":"s","x":21.67,"y":-3.8},{"p":5,"c":"b40","s":"s","x":21.2,"y":-3.89},
{"p":5,"c":"b42","s":"d","x":21.53,"y":0},{"p":5,"c":"b42","s":"d","x":22.34,"y":-0.61},{"p":5,"c":"b42","s":"d","x":23.0,"y":-1.16},{"p":5,"c":"b42","s":"d","x":23.5,"y":-1.56},{"p":5,"c":"b42","s":"d","x":23.72,"y":-1.8},{"p":5,"c":"b42","s":"d","x":23.82,"y":-2.0},{"p":5,"c":"b42","s":"d","x":23.9,"y":-2.5},{"p":5,"c":"b42","s":"d","x":24.0,"y":-3.0},{"p":5,"c":"b42","s":"d","x":23.85,"y":-3.25},{"p":5,"c":"b42","s":"d","x":23.6,"y":-3.45},{"p":5,"c":"b42","s":"d","x":23.4,"y":-3.7},{"p":5,"c":"b42","s":"d","x":23.22,"y":-4.0},
{"p":5,"c":"b42b","s":"d","x":21.45,"y":-4.0},{"p":5,"c":"b42b","s":"d","x":22.0,"y":-3.97},{"p":5,"c":"b42b","s":"d","x":22.6,"y":-3.95},{"p":5,"c":"b42b","s":"d","x":22.9,"y":-4.0},
{"p":5,"c":"b44","s":"d","x":21.98,"y":0},{"p":5,"c":"b44","s":"d","x":22.34,"y":-0.21},{"p":5,"c":"b44","s":"d","x":23.0,"y":-0.9},{"p":5,"c":"b44","s":"d","x":23.5,"y":-1.35},{"p":5,"c":"b44","s":"d","x":23.8,"y":-1.65},{"p":5,"c":"b44","s":"d","x":23.94,"y":-2.0},{"p":5,"c":"b44","s":"d","x":24.01,"y":-2.5},{"p":5,"c":"b44","s":"d","x":24.1,"y":-3.0},{"p":5,"c":"b44","s":"d","x":23.95,"y":-3.3},{"p":5,"c":"b44","s":"d","x":23.75,"y":-3.55},{"p":5,"c":"b44","s":"d","x":23.6,"y":-3.8},{"p":5,"c":"b44","s":"d","x":23.5,"y":-4.0},
{"p":5,"c":"b46","s":"d","x":22.3,"y":0},{"p":5,"c":"b46","s":"d","x":23.0,"y":-0.64},{"p":5,"c":"b46","s":"d","x":23.5,"y":-1.13},{"p":5,"c":"b46","s":"d","x":23.85,"y":-1.5},{"p":5,"c":"b46","s":"d","x":24.0,"y":-1.75},{"p":5,"c":"b46","s":"d","x":24.07,"y":-2.0},{"p":5,"c":"b46","s":"d","x":24.12,"y":-2.5},{"p":5,"c":"b46","s":"d","x":24.2,"y":-3.0},{"p":5,"c":"b46","s":"d","x":24.08,"y":-3.35},{"p":5,"c":"b46","s":"d","x":23.9,"y":-3.65},{"p":5,"c":"b46","s":"d","x":23.72,"y":-4.0},
{"p":5,"c":"b48","s":"d","x":22.6,"y":0},{"p":5,"c":"b48","s":"d","x":23.0,"y":-0.38},{"p":5,"c":"b48","s":"d","x":23.5,"y":-0.92},{"p":5,"c":"b48","s":"d","x":23.9,"y":-1.35},{"p":5,"c":"b48","s":"d","x":24.12,"y":-1.7},{"p":5,"c":"b48","s":"d","x":24.2,"y":-2.0},{"p":5,"c":"b48","s":"d","x":24.24,"y":-2.5},{"p":5,"c":"b48","s":"d","x":24.29,"y":-3.0},{"p":5,"c":"b48","s":"d","x":24.18,"y":-3.35},{"p":5,"c":"b48","s":"d","x":24.03,"y":-3.7},{"p":5,"c":"b48","s":"d","x":23.93,"y":-4.0},
{"p":5,"c":"b50","s":"s","x":22.9,"y":0},{"p":5,"c":"b50","s":"s","x":23.31,"y":-0.49},{"p":5,"c":"b50","s":"s","x":23.59,"y":-0.81},{"p":5,"c":"b50","s":"s","x":23.87,"y":-1.11},{"p":5,"c":"b50","s":"s","x":24.02,"y":-1.33},{"p":5,"c":"b50","s":"s","x":24.23,"y":-1.7},{"p":5,"c":"b50","s":"s","x":24.32,"y":-2.0},{"p":5,"c":"b50","s":"s","x":24.35,"y":-2.39},{"p":5,"c":"b50","s":"s","x":24.39,"y":-2.99},{"p":5,"c":"b50","s":"s","x":24.3,"y":-3.3},{"p":5,"c":"b50","s":"s","x":24.2,"y":-3.48},{"p":5,"c":"b50","s":"s","x":24.12,"y":-3.75},{"p":5,"c":"b50","s":"s","x":24.08,"y":-4.0},
{"p":5,"c":"b52","s":"d","x":23.1,"y":0},{"p":5,"c":"b52","s":"d","x":23.45,"y":-0.45},{"p":5,"c":"b52","s":"d","x":23.75,"y":-0.85},{"p":5,"c":"b52","s":"d","x":24.12,"y":-1.4},{"p":5,"c":"b52","s":"d","x":24.27,"y":-1.75},{"p":5,"c":"b52","s":"d","x":24.37,"y":-2.0},{"p":5,"c":"b52","s":"d","x":24.4,"y":-2.5},{"p":5,"c":"b52","s":"d","x":24.44,"y":-3.0},{"p":5,"c":"b52","s":"d","x":24.31,"y":-3.4},{"p":5,"c":"b52","s":"d","x":24.18,"y":-3.75},{"p":5,"c":"b52","s":"d","x":24.14,"y":-4.0},
{"p":5,"c":"b54","s":"d","x":23.3,"y":0},{"p":5,"c":"b54","s":"d","x":23.62,"y":-0.42},{"p":5,"c":"b54","s":"d","x":23.87,"y":-0.85},{"p":5,"c":"b54","s":"d","x":24.2,"y":-1.4},{"p":5,"c":"b54","s":"d","x":24.35,"y":-1.75},{"p":5,"c":"b54","s":"d","x":24.42,"y":-2.0},{"p":5,"c":"b54","s":"d","x":24.45,"y":-2.5},{"p":5,"c":"b54","s":"d","x":24.49,"y":-3.0},{"p":5,"c":"b54","s":"d","x":24.37,"y":-3.4},{"p":5,"c":"b54","s":"d","x":24.25,"y":-3.75},{"p":5,"c":"b54","s":"d","x":24.2,"y":-4.0},
{"p":5,"c":"b56","s":"d","x":23.5,"y":0},{"p":5,"c":"b56","s":"d","x":23.78,"y":-0.4},{"p":5,"c":"b56","s":"d","x":23.99,"y":-0.85},{"p":5,"c":"b56","s":"d","x":24.28,"y":-1.4},{"p":5,"c":"b56","s":"d","x":24.42,"y":-1.75},{"p":5,"c":"b56","s":"d","x":24.48,"y":-2.0},{"p":5,"c":"b56","s":"d","x":24.5,"y":-2.5},{"p":5,"c":"b56","s":"d","x":24.54,"y":-3.0},{"p":5,"c":"b56","s":"d","x":24.42,"y":-3.4},{"p":5,"c":"b56","s":"d","x":24.32,"y":-3.75},{"p":5,"c":"b56","s":"d","x":24.27,"y":-4.0},
{"p":5,"c":"b58","s":"d","x":23.7,"y":0},{"p":5,"c":"b58","s":"d","x":23.93,"y":-0.38},{"p":5,"c":"b58","s":"d","x":24.11,"y":-0.85},{"p":5,"c":"b58","s":"d","x":24.36,"y":-1.4},{"p":5,"c":"b58","s":"d","x":24.48,"y":-1.75},{"p":5,"c":"b58","s":"d","x":24.53,"y":-2.0},{"p":5,"c":"b58","s":"d","x":24.55,"y":-2.5},{"p":5,"c":"b58","s":"d","x":24.58,"y":-3.0},{"p":5,"c":"b58","s":"d","x":24.48,"y":-3.4},{"p":5,"c":"b58","s":"d","x":24.38,"y":-3.75},{"p":5,"c":"b58","s":"d","x":24.33,"y":-4.0},
{"p":5,"c":"b60","s":"s","x":23.87,"y":0},{"p":5,"c":"b60","s":"s","x":24.05,"y":-0.35},{"p":5,"c":"b60","s":"s","x":24.23,"y":-0.81},{"p":5,"c":"b60","s":"s","x":24.43,"y":-1.41},{"p":5,"c":"b60","s":"s","x":24.54,"y":-1.73},{"p":5,"c":"b60","s":"s","x":24.58,"y":-2.0},{"p":5,"c":"b60","s":"s","x":24.6,"y":-2.53},{"p":5,"c":"b60","s":"s","x":24.63,"y":-2.99},{"p":5,"c":"b60","s":"s","x":24.57,"y":-3.26},{"p":5,"c":"b60","s":"s","x":24.47,"y":-3.63},{"p":5,"c":"b60","s":"s","x":24.4,"y":-4.0},
{"p":5,"c":"e1","s":"d","x":21.2,"y":-0.35},{"p":5,"c":"e1","s":"d","x":21.27,"y":-0.12},{"p":5,"c":"e1","s":"d","x":21.3,"y":0},
{"p":5,"c":"e2","s":"s","x":21.2,"y":-0.6},{"p":5,"c":"e2","s":"s","x":21.3,"y":-0.25},{"p":5,"c":"e2","s":"s","x":21.36,"y":0},
{"p":5,"c":"e3","s":"d","x":21.2,"y":-0.85},{"p":5,"c":"e3","s":"d","x":21.3,"y":-0.5},{"p":5,"c":"e3","s":"d","x":21.33,"y":-0.35},
{"p":5,"c":"e4","s":"d","x":21.2,"y":-1.25},{"p":5,"c":"e4","s":"d","x":21.27,"y":-1.17},{"p":5,"c":"e4","s":"d","x":21.3,"y":-1.22},

{"p":6,"c":"q13","s":"s","x":21.95,"y":0},{"p":6,"c":"q13","s":"s","x":21.83,"y":-0.42},{"p":6,"c":"q13","s":"s","x":21.74,"y":-0.73},{"p":6,"c":"q13","s":"s","x":21.69,"y":-1.1},{"p":6,"c":"q13","s":"s","x":21.63,"y":-1.4},{"p":6,"c":"q13","s":"s","x":21.59,"y":-1.52},{"p":6,"c":"q13","s":"s","x":21.46,"y":-1.77},{"p":6,"c":"q13","s":"s","x":21.35,"y":-1.92},{"p":6,"c":"q13","s":"s","x":21.29,"y":-2.07},{"p":6,"c":"q13","s":"s","x":21.28,"y":-2.25},{"p":6,"c":"q13","s":"s","x":21.24,"y":-2.47},{"p":6,"c":"q13","s":"s","x":21.2,"y":-2.56},
{"p":6,"c":"q135","s":"d","x":22.0,"y":0},{"p":6,"c":"q135","s":"d","x":21.9,"y":-0.39},{"p":6,"c":"q135","s":"d","x":21.78,"y":-0.82},{"p":6,"c":"q135","s":"d","x":21.73,"y":-1.1},{"p":6,"c":"q135","s":"d","x":21.69,"y":-1.4},{"p":6,"c":"q135","s":"d","x":21.6,"y":-1.58},{"p":6,"c":"q135","s":"d","x":21.49,"y":-1.83},{"p":6,"c":"q135","s":"d","x":21.39,"y":-2.01},{"p":6,"c":"q135","s":"d","x":21.33,"y":-2.25},{"p":6,"c":"q135","s":"d","x":21.29,"y":-2.5},{"p":6,"c":"q135","s":"d","x":21.24,"y":-2.68},{"p":6,"c":"q135","s":"d","x":21.2,"y":-2.77},
{"p":6,"c":"q14","s":"s","x":22.09,"y":0},{"p":6,"c":"q14","s":"s","x":22.04,"y":-0.3},{"p":6,"c":"q14","s":"s","x":21.94,"y":-0.61},{"p":6,"c":"q14","s":"s","x":21.84,"y":-0.91},{"p":6,"c":"q14","s":"s","x":21.74,"y":-1.22},{"p":6,"c":"q14","s":"s","x":21.69,"y":-1.43},{"p":6,"c":"q14","s":"s","x":21.6,"y":-1.64},{"p":6,"c":"q14","s":"s","x":21.52,"y":-1.89},{"p":6,"c":"q14","s":"s","x":21.45,"y":-2.07},{"p":6,"c":"q14","s":"s","x":21.39,"y":-2.25},{"p":6,"c":"q14","s":"s","x":21.35,"y":-2.45},{"p":6,"c":"q14","s":"s","x":21.29,"y":-2.62},{"p":6,"c":"q14","s":"s","x":21.2,"y":-2.88},
{"p":6,"c":"q145","s":"d","x":22.15,"y":0},{"p":6,"c":"q145","s":"d","x":22.05,"y":-0.39},{"p":6,"c":"q145","s":"d","x":21.92,"y":-0.85},{"p":6,"c":"q145","s":"d","x":21.81,"y":-1.22},{"p":6,"c":"q145","s":"d","x":21.74,"y":-1.52},{"p":6,"c":"q145","s":"d","x":21.64,"y":-1.83},{"p":6,"c":"q145","s":"d","x":21.54,"y":-2.1},{"p":6,"c":"q145","s":"d","x":21.46,"y":-2.38},{"p":6,"c":"q145","s":"d","x":21.39,"y":-2.62},{"p":6,"c":"q145","s":"d","x":21.31,"y":-2.83},{"p":6,"c":"q145","s":"d","x":21.26,"y":-2.99},{"p":6,"c":"q145","s":"d","x":21.2,"y":-3.1},
{"p":6,"c":"q15","s":"s","x":22.33,"y":0},{"p":6,"c":"q15","s":"s","x":22.26,"y":-0.13},{"p":6,"c":"q15","s":"s","x":22.2,"y":-0.55},{"p":6,"c":"q15","s":"s","x":22.11,"y":-0.85},{"p":6,"c":"q15","s":"s","x":21.99,"y":-1.1},{"p":6,"c":"q15","s":"s","x":21.92,"y":-1.2},{"p":6,"c":"q15","s":"s","x":21.83,"y":-1.46},{"p":6,"c":"q15","s":"s","x":21.74,"y":-1.77},{"p":6,"c":"q15","s":"s","x":21.66,"y":-2.07},{"p":6,"c":"q15","s":"s","x":21.59,"y":-2.27},{"p":6,"c":"q15","s":"s","x":21.53,"y":-2.53},{"p":6,"c":"q15","s":"s","x":21.43,"y":-2.77},{"p":6,"c":"q15","s":"s","x":21.35,"y":-2.93},{"p":6,"c":"q15","s":"s","x":21.29,"y":-2.99},{"p":6,"c":"q15","s":"s","x":21.28,"y":-3.14},{"p":6,"c":"q15","s":"s","x":21.26,"y":-3.32},{"p":6,"c":"q15","s":"s","x":21.22,"y":-3.55},{"p":6,"c":"q15","s":"s","x":21.2,"y":-3.6},
{"p":6,"c":"q155","s":"d","x":22.46,"y":0},{"p":6,"c":"q155","s":"d","x":22.39,"y":-0.3},{"p":6,"c":"q155","s":"d","x":22.3,"y":-0.64},{"p":6,"c":"q155","s":"d","x":22.19,"y":-1.0},{"p":6,"c":"q155","s":"d","x":22.08,"y":-1.28},{"p":6,"c":"q155","s":"d","x":21.97,"y":-1.55},{"p":6,"c":"q155","s":"d","x":21.85,"y":-1.8},{"p":6,"c":"q155","s":"d","x":21.74,"y":-2.01},{"p":6,"c":"q155","s":"d","x":21.67,"y":-2.25},{"p":6,"c":"q155","s":"d","x":21.6,"y":-2.53},{"p":6,"c":"q155","s":"d","x":21.5,"y":-2.87},{"p":6,"c":"q155","s":"d","x":21.47,"y":-2.99},{"p":6,"c":"q155","s":"d","x":21.47,"y":-3.44},{"p":6,"c":"q155","s":"d","x":21.46,"y":-4.0},
{"p":6,"c":"q16","s":"s","x":22.55,"y":0},{"p":6,"c":"q16","s":"s","x":22.51,"y":-0.13},{"p":6,"c":"q16","s":"s","x":22.46,"y":-0.33},{"p":6,"c":"q16","s":"s","x":22.39,"y":-0.61},{"p":6,"c":"q16","s":"s","x":22.29,"y":-0.94},{"p":6,"c":"q16","s":"s","x":22.2,"y":-1.23},{"p":6,"c":"q16","s":"s","x":22.11,"y":-1.46},{"p":6,"c":"q16","s":"s","x":22.04,"y":-1.64},{"p":6,"c":"q16","s":"s","x":21.87,"y":-2.01},{"p":6,"c":"q16","s":"s","x":21.83,"y":-2.32},{"p":6,"c":"q16","s":"s","x":21.78,"y":-2.68},{"p":6,"c":"q16","s":"s","x":21.7,"y":-2.99},{"p":6,"c":"q16","s":"s","x":21.68,"y":-3.14},{"p":6,"c":"q16","s":"s","x":21.7,"y":-3.23},{"p":6,"c":"q16","s":"s","x":21.77,"y":-3.44},{"p":6,"c":"q16","s":"s","x":21.85,"y":-3.63},{"p":6,"c":"q16","s":"s","x":22.02,"y":-3.8},{"p":6,"c":"q16","s":"s","x":22.3,"y":-3.87},{"p":6,"c":"q16","s":"s","x":22.5,"y":-3.9},{"p":6,"c":"q16","s":"s","x":23.54,"y":-3.95},{"p":6,"c":"q16","s":"s","x":24.58,"y":-3.98},{"p":6,"c":"q16","s":"s","x":24.9,"y":-3.99},
{"p":6,"c":"q165","s":"d","x":22.71,"y":0},{"p":6,"c":"q165","s":"d","x":22.61,"y":-0.39},{"p":6,"c":"q165","s":"d","x":22.5,"y":-0.79},{"p":6,"c":"q165","s":"d","x":22.36,"y":-1.16},{"p":6,"c":"q165","s":"d","x":22.25,"y":-1.4},{"p":6,"c":"q165","s":"d","x":22.13,"y":-1.71},{"p":6,"c":"q165","s":"d","x":22.04,"y":-2.01},{"p":6,"c":"q165","s":"d","x":22.02,"y":-2.38},{"p":6,"c":"q165","s":"d","x":22.01,"y":-2.99},{"p":6,"c":"q165","s":"d","x":22.11,"y":-3.14},{"p":6,"c":"q165","s":"d","x":22.3,"y":-3.29},{"p":6,"c":"q165","s":"d","x":22.58,"y":-3.4},{"p":6,"c":"q165","s":"d","x":22.87,"y":-3.41},{"p":6,"c":"q165","s":"d","x":23.54,"y":-3.43},{"p":6,"c":"q165","s":"d","x":24.9,"y":-3.47},
{"p":6,"c":"q17","s":"s","x":22.94,"y":0},{"p":6,"c":"q17","s":"s","x":22.84,"y":-0.27},{"p":6,"c":"q17","s":"s","x":22.75,"y":-0.55},{"p":6,"c":"q17","s":"s","x":22.67,"y":-0.73},{"p":6,"c":"q17","s":"s","x":22.58,"y":-0.94},{"p":6,"c":"q17","s":"s","x":22.56,"y":-1.16},{"p":6,"c":"q17","s":"s","x":22.57,"y":-1.25},{"p":6,"c":"q17","s":"s","x":22.47,"y":-1.52},{"p":6,"c":"q17","s":"s","x":22.36,"y":-1.83},{"p":6,"c":"q17","s":"s","x":22.25,"y":-2.01},{"p":6,"c":"q17","s":"s","x":22.28,"y":-2.25},{"p":6,"c":"q17","s":"s","x":22.39,"y":-2.48},{"p":6,"c":"q17","s":"s","x":22.5,"y":-2.68},{"p":6,"c":"q17","s":"s","x":22.7,"y":-2.87},{"p":6,"c":"q17","s":"s","x":22.98,"y":-2.94},{"p":6,"c":"q17","s":"s","x":23.26,"y":-2.99},{"p":6,"c":"q17","s":"s","x":24.31,"y":-2.98},{"p":6,"c":"q17","s":"s","x":24.9,"y":-3.0},
{"p":6,"c":"q175","s":"d","x":23.05,"y":0},{"p":6,"c":"q175","s":"d","x":22.98,"y":-0.55},{"p":6,"c":"q175","s":"d","x":22.84,"y":-0.79},{"p":6,"c":"q175","s":"d","x":22.77,"y":-1.0},{"p":6,"c":"q175","s":"d","x":22.74,"y":-1.46},{"p":6,"c":"q175","s":"d","x":22.67,"y":-1.83},{"p":6,"c":"q175","s":"d","x":22.63,"y":-2.01},{"p":6,"c":"q175","s":"d","x":22.72,"y":-2.16},{"p":6,"c":"q175","s":"d","x":23.0,"y":-2.35},{"p":6,"c":"q175","s":"d","x":23.54,"y":-2.47},{"p":6,"c":"q175","s":"d","x":24.04,"y":-2.53},{"p":6,"c":"q175","s":"d","x":24.9,"y":-2.54},
{"p":6,"c":"q18","s":"s","x":23.29,"y":0},{"p":6,"c":"q18","s":"s","x":23.24,"y":-0.47},{"p":6,"c":"q18","s":"s","x":23.2,"y":-0.64},{"p":6,"c":"q18","s":"s","x":23.15,"y":-0.85},{"p":6,"c":"q18","s":"s","x":23.09,"y":-1.0},{"p":6,"c":"q18","s":"s","x":23.12,"y":-1.14},{"p":6,"c":"q18","s":"s","x":23.17,"y":-1.31},{"p":6,"c":"q18","s":"s","x":23.23,"y":-1.52},{"p":6,"c":"q18","s":"s","x":23.37,"y":-1.77},{"p":6,"c":"q18","s":"s","x":23.54,"y":-1.95},{"p":6,"c":"q18","s":"s","x":23.68,"y":-2.06},{"p":6,"c":"q18","s":"s","x":24.04,"y":-2.11},{"p":6,"c":"q18","s":"s","x":24.72,"y":-2.13},{"p":6,"c":"q18","s":"s","x":24.9,"y":-2.13},
{"p":6,"c":"q185","s":"d","x":23.93,"y":0},{"p":6,"c":"q185","s":"d","x":23.96,"y":-0.45},{"p":6,"c":"q185","s":"d","x":24.0,"y":-0.99},{"p":6,"c":"q185","s":"d","x":24.18,"y":-1.09},{"p":6,"c":"q185","s":"d","x":24.47,"y":-1.18},{"p":6,"c":"q185","s":"d","x":24.9,"y":-1.28}
],
"labels": [
{"p":1,"x":21.25,"y":-0.17,"t":"-5"},{"p":1,"x":22.71,"y":-0.26,"t":"-5"},{"p":1,"x":24.27,"y":-0.38,"t":"-6"},{"p":1,"x":23.44,"y":-1.07,"t":"-5"},{"p":1,"x":24.75,"y":-1.38,"t":"-6"},{"p":1,"x":21.36,"y":-1.66,"t":"-4"},{"p":1,"x":22.31,"y":-1.73,"t":"-4"},{"p":1,"x":24.31,"y":-1.74,"t":"-5"},{"p":1,"x":23.27,"y":-2.24,"t":"-4"},{"p":1,"x":24.83,"y":-2.74,"t":"-5"},{"p":1,"x":24.18,"y":-2.8,"t":"-4"},{"p":1,"x":21.47,"y":-3.16,"t":"-3"},{"p":1,"x":22.52,"y":-3.46,"t":"-3"},{"p":1,"x":23.5,"y":-3.82,"t":"-3"},{"p":1,"x":24.67,"y":-3.79,"t":"-4"},
{"p":2,"x":22.26,"y":-0.19,"t":"-4"},{"p":2,"x":23.62,"y":-0.35,"t":"-5"},{"p":2,"x":24.25,"y":-0.32,"t":"-6"},{"p":2,"x":22.97,"y":-1.03,"t":"-4"},{"p":2,"x":24.11,"y":-1.36,"t":"-5"},{"p":2,"x":24.5,"y":-1.43,"t":"-6"},{"p":2,"x":21.26,"y":-2.0,"t":"-3"},{"p":2,"x":23.56,"y":-1.98,"t":"-4"},{"p":2,"x":24.27,"y":-2.47,"t":"-5"},{"p":2,"x":24.57,"y":-2.55,"t":"-6"},{"p":2,"x":23.45,"y":-3.09,"t":"-4"},{"p":2,"x":24.18,"y":-3.6,"t":"-5"},{"p":2,"x":24.51,"y":-3.68,"t":"-6"},{"p":2,"x":22.75,"y":-3.9,"t":"-4"},
{"p":3,"x":21.61,"y":-0.23,"t":"13","a":"v"},{"p":3,"x":21.67,"y":-0.42,"t":"14","a":"v"},{"p":3,"x":21.81,"y":-0.31,"t":"15","a":"dn"},{"p":3,"x":21.5,"y":-1.34,"t":"13","a":"v"},{"p":3,"x":21.57,"y":-1.52,"t":"14","a":"v"},{"p":3,"x":21.86,"y":-1.45,"t":"15","a":"dn"},{"p":3,"x":21.36,"y":-2.44,"t":"13","a":"v"},{"p":3,"x":21.39,"y":-2.6,"t":"14","a":"v"},{"p":3,"x":21.68,"y":-2.44,"t":"15","a":"d"},{"p":3,"x":21.32,"y":-3.47,"t":"15","a":"v"},{"p":3,"x":24.43,"y":-0.64,"t":"16","a":"n"},{"p":3,"x":23.64,"y":-1.5,"t":"16","a":"d"},{"p":3,"x":23.53,"y":-2.24,"t":"16","a":"s"},{"p":3,"x":24.56,"y":-2.56,"t":"16","a":"h"},
{"p":4,"x":21.49,"y":-0.26,"t":"-5"},{"p":4,"x":21.29,"y":-0.63,"t":"-6"},{"p":4,"x":21.22,"y":-1.35,"t":"-5"},{"p":4,"x":21.46,"y":-1.52,"t":"-4"},{"p":4,"x":22.42,"y":-1.2,"t":"-4"},{"p":4,"x":23.61,"y":-0.43,"t":"-5"},{"p":4,"x":24.73,"y":-0.67,"t":"-6"},{"p":4,"x":24.34,"y":-1.23,"t":"-5"},{"p":4,"x":23.28,"y":-1.86,"t":"-4"},{"p":4,"x":24.76,"y":-2.26,"t":"-5"},{"p":4,"x":24.16,"y":-2.5,"t":"-4"},{"p":4,"x":21.68,"y":-2.96,"t":"-3"},{"p":4,"x":22.71,"y":-3.27,"t":"-3"},{"p":4,"x":23.68,"y":-3.69,"t":"-3"},{"p":4,"x":24.67,"y":-3.5,"t":"-4"},
{"p":5,"x":21.28,"y":-0.19,"t":"-5"},{"p":5,"x":21.39,"y":-0.38,"t":"-4"},{"p":5,"x":22.16,"y":-0.81,"t":"-4"},{"p":5,"x":23.31,"y":-0.49,"t":"-5"},{"p":5,"x":24.05,"y":-0.35,"t":"-6"},{"p":5,"x":23.03,"y":-1.45,"t":"-4"},{"p":5,"x":24.02,"y":-1.33,"t":"-5"},{"p":5,"x":24.43,"y":-1.41,"t":"-6"},{"p":5,"x":21.5,"y":-1.97,"t":"-3"},{"p":5,"x":23.74,"y":-2.23,"t":"-4"},{"p":5,"x":24.35,"y":-2.39,"t":"-5"},{"p":5,"x":24.6,"y":-2.53,"t":"-6"},{"p":5,"x":21.54,"y":-3.03,"t":"-3"},{"p":5,"x":23.67,"y":-3.23,"t":"-4"},{"p":5,"x":24.2,"y":-3.48,"t":"-5"},{"p":5,"x":24.47,"y":-3.63,"t":"-6"},{"p":5,"x":22.72,"y":-3.63,"t":"-4"},{"p":5,"x":21.67,"y":-3.8,"t":"-4"},
{"p":6,"x":21.91,"y":-0.2,"t":"13","a":"v"},{"p":6,"x":22.04,"y":-0.3,"t":"14","a":"d"},{"p":6,"x":22.26,"y":-0.13,"t":"15","a":"v"},{"p":6,"x":22.51,"y":-0.13,"t":"16","a":"v"},{"p":6,"x":22.84,"y":-0.27,"t":"17","a":"d"},{"p":6,"x":23.24,"y":-0.47,"t":"18","a":"v"},{"p":6,"x":21.64,"y":-1.28,"t":"13","a":"v"},{"p":6,"x":21.69,"y":-1.43,"t":"14","a":"v"},{"p":6,"x":21.92,"y":-1.2,"t":"15","a":"d"},{"p":6,"x":22.2,"y":-1.23,"t":"16","a":"v"},{"p":6,"x":22.04,"y":-1.64,"t":"16","a":"d"},{"p":6,"x":22.57,"y":-1.25,"t":"17","a":"v"},{"p":6,"x":23.12,"y":-1.14,"t":"18","a":"r"},{"p":6,"x":21.26,"y":-2.32,"t":"13","a":"v"},{"p":6,"x":21.35,"y":-2.45,"t":"14","a":"d"},{"p":6,"x":21.59,"y":-2.27,"t":"15","a":"v"},{"p":6,"x":21.78,"y":-2.68,"t":"16","a":"v"},{"p":6,"x":22.39,"y":-2.48,"t":"17","a":"r2"},{"p":6,"x":23.68,"y":-2.06,"t":"18","a":"h"},{"p":6,"x":24.72,"y":-2.13,"t":"18","a":"h"},{"p":6,"x":21.26,"y":-3.32,"t":"15","a":"v"},{"p":6,"x":21.7,"y":-3.23,"t":"16","a":"r"},{"p":6,"x":23.26,"y":-2.99,"t":"17","a":"h"},{"p":6,"x":24.31,"y":-2.98,"t":"17","a":"h"},{"p":6,"x":22.5,"y":-3.9,"t":"16","a":"h"},{"p":6,"x":23.54,"y":-3.95,"t":"16","a":"h"},{"p":6,"x":24.58,"y":-3.98,"t":"16","a":"h"}
]
},
"spacing": 1,
"vconcat": [
{"spacing": 97, "hconcat": [
 {"width": 429, "height": 427,
  "title": {"text": "Log CII/FIR", "color": "#ff0000", "font": "Lato", "fontSize": 70, "fontWeight": "normal", "frame": "group", "anchor": "middle", "baseline": "alphabetic", "offset": -45, "dx": -23},
  "layer": [
   {"data": {"name": "lines"}, "transform": [{"filter": "datum.p == 1"}, {"window": [{"op": "row_number", "as": "i"}]}],
    "mark": {"type": "line", "clip": true, "color": "#333333", "strokeWidth": 1.2},
    "encoding": {
     "x": {"field": "x", "type": "quantitative", "scale": {"domain": [21.2, 24.9], "nice": false, "zero": false}, "axis": {"orient": "bottom", "values": [21.5, 22, 22.5, 23, 23.5, 24, 24.5], "format": ".1f", "tickSize": -7, "labelPadding": 20, "title": null}},
     "y": {"field": "y", "type": "quantitative", "scale": {"domain": [-4, 0], "nice": false, "zero": false}, "axis": {"orient": "left", "values": [0, -0.5, -1, -1.5, -2, -2.5, -3, -3.5, -4], "format": ".1f", "tickSize": -10, "labelPadding": 20, "title": "   SB   ", "titleAngle": 0, "titleX": -145, "titleY": 227, "titleAlign": "center", "titleBaseline": "alphabetic", "titleColor": "#ff0000", "titleFont": "Lato", "titleFontSize": 70, "titleFontWeight": "normal"}},
     "detail": {"field": "c", "type": "nominal"},
     "order": {"field": "i", "type": "quantitative"},
     "strokeDash": {"field": "s", "type": "nominal", "scale": {"domain": ["s", "d"], "range": [[1, 0], [12, 6]]}, "legend": null}
    }},
   {"data": {"name": "labels"}, "transform": [{"filter": "datum.p == 1"}],
    "mark": {"type": "point", "shape": "square", "filled": true, "color": "#ffffff", "opacity": 1, "size": 300, "clip": true},
    "encoding": {"x": {"field": "x", "type": "quantitative", "axis": null}, "y": {"field": "y", "type": "quantitative", "axis": null}}},
   {"data": {"name": "labels"}, "transform": [{"filter": "datum.p == 1"}],
    "mark": {"type": "text", "font": "Liberation Serif", "fontSize": 20, "color": "#1a1a1a"},
    "encoding": {"x": {"field": "x", "type": "quantitative", "axis": null}, "y": {"field": "y", "type": "quantitative", "axis": null}, "text": {"field": "t", "type": "nominal"}}},
   {"data": {"name": "labels"}, "transform": [{"filter": "datum.p == 1"}],
    "mark": {"type": "point", "opacity": 0},
    "encoding": {"x": {"field": "x", "type": "quantitative", "axis": {"orient": "top", "values": [21.5, 22, 22.5, 23, 23.5, 24, 24.5], "tickSize": -7, "labels": false, "title": null}}, "y": {"field": "y", "type": "quantitative", "axis": {"orient": "right", "values": [0, -0.5, -1, -1.5, -2, -2.5, -3, -3.5, -4], "tickSize": -10, "labels": false, "title": null}}}}
  ],
  "resolve": {"axis": {"x": "independent", "y": "independent"}}
 },
 {"spacing": 73, "hconcat": [
  {"width": 427, "height": 425,
   "title": {"text": "Log OIII/FIR", "color": "#ff0000", "font": "Lato", "fontSize": 70, "fontWeight": "normal", "frame": "group", "anchor": "middle", "baseline": "alphabetic", "offset": -45, "dx": -5},
   "layer": [
    {"data": {"name": "lines"}, "transform": [{"filter": "datum.p == 2"}, {"window": [{"op": "row_number", "as": "i"}]}],
     "mark": {"type": "line", "clip": true, "color": "#333333", "strokeWidth": 1.2},
     "encoding": {
      "x": {"field": "x", "type": "quantitative", "scale": {"domain": [21.2, 24.9], "nice": false, "zero": false}, "axis": {"orient": "bottom", "values": [21.5, 22, 22.5, 23, 23.5, 24, 24.5], "format": ".1f", "tickSize": -7, "labelPadding": 20, "title": null}},
      "y": {"field": "y", "type": "quantitative", "scale": {"domain": [-4, 0], "nice": false, "zero": false}, "axis": {"orient": "left", "values": [0, -0.5, -1, -1.5, -2, -2.5, -3, -3.5, -4], "format": ".1f", "tickSize": -10, "labelPadding": 20, "title": null}},
      "detail": {"field": "c", "type": "nominal"},
      "order": {"field": "i", "type": "quantitative"},
      "strokeDash": {"field": "s", "type": "nominal", "scale": {"domain": ["s", "d"], "range": [[1, 0], [12, 6]]}, "legend": null}
     }},
    {"data": {"name": "labels"}, "transform": [{"filter": "datum.p == 2"}],
     "mark": {"type": "point", "shape": "square", "filled": true, "color": "#ffffff", "opacity": 1, "size": 300, "clip": true},
     "encoding": {"x": {"field": "x", "type": "quantitative", "axis": null}, "y": {"field": "y", "type": "quantitative", "axis": null}}},
    {"data": {"name": "labels"}, "transform": [{"filter": "datum.p == 2"}],
     "mark": {"type": "text", "font": "Liberation Serif", "fontSize": 20, "color": "#1a1a1a"},
     "encoding": {"x": {"field": "x", "type": "quantitative", "axis": null}, "y": {"field": "y", "type": "quantitative", "axis": null}, "text": {"field": "t", "type": "nominal"}}},
    {"data": {"name": "labels"}, "transform": [{"filter": "datum.p == 2"}],
     "mark": {"type": "point", "opacity": 0},
     "encoding": {"x": {"field": "x", "type": "quantitative", "axis": {"orient": "top", "values": [21.5, 22, 22.5, 23, 23.5, 24, 24.5], "tickSize": -7, "labels": false, "title": null}}, "y": {"field": "y", "type": "quantitative", "axis": {"orient": "right", "values": [0, -0.5, -1, -1.5, -2, -2.5, -3, -3.5, -4], "tickSize": -10, "labels": false, "title": null}}}}
   ],
   "resolve": {"axis": {"x": "independent", "y": "independent"}}
  },
  {"width": 440, "height": 437,
   "title": {"text": "Log N(OH)", "color": "#ff0000", "font": "Lato", "fontSize": 70, "fontWeight": "normal", "frame": "group", "anchor": "middle", "baseline": "alphabetic", "offset": -45, "dx": -5},
   "layer": [
    {"data": {"name": "lines"}, "transform": [{"filter": "datum.p == 3"}, {"window": [{"op": "row_number", "as": "i"}]}],
     "mark": {"type": "line", "clip": true, "color": "#333333", "strokeWidth": 1.2},
     "encoding": {
      "x": {"field": "x", "type": "quantitative", "scale": {"domain": [21.2, 24.9], "nice": false, "zero": false}, "axis": {"orient": "bottom", "values": [21.5, 22, 22.5, 23, 23.5, 24, 24.5], "format": ".1f", "tickSize": -7, "labelPadding": 20, "title": null}},
      "y": {"field": "y", "type": "quantitative", "scale": {"domain": [-4, 0], "nice": false, "zero": false}, "axis": {"orient": "left", "values": [0, -0.5, -1, -1.5, -2, -2.5, -3, -3.5, -4], "format": ".1f", "tickSize": -10, "labelPadding": 20, "title": null}},
      "detail": {"field": "c", "type": "nominal"},
      "order": {"field": "i", "type": "quantitative"},
      "strokeDash": {"field": "s", "type": "nominal", "scale": {"domain": ["s", "d"], "range": [[1, 0], [12, 6]]}, "legend": null}
     }},
    {"data": {"name": "labels"}, "transform": [{"filter": "datum.p == 3"}],
     "mark": {"type": "point", "shape": "square", "filled": true, "color": "#ffffff", "opacity": 1, "size": 300, "clip": true},
     "encoding": {"x": {"field": "x", "type": "quantitative", "axis": null}, "y": {"field": "y", "type": "quantitative", "axis": null}}},
    {"data": {"name": "labels"}, "transform": [{"filter": "datum.p == 3"}],
     "mark": {"type": "text", "font": "Liberation Serif", "fontSize": 20, "color": "#1a1a1a"},
     "encoding": {"x": {"field": "x", "type": "quantitative", "axis": null}, "y": {"field": "y", "type": "quantitative", "axis": null}, "text": {"field": "t", "type": "nominal"},
      "angle": {"field": "a", "type": "nominal", "scale": {"domain": ["h", "v", "d", "n", "s", "r", "r2", "dn"], "range": [0, -80, -60, -40, 30, 100, 115, 85]}, "legend": null}}},
    {"data": {"name": "labels"}, "transform": [{"filter": "datum.p == 3"}],
     "mark": {"type": "point", "opacity": 0},
     "encoding": {"x": {"field": "x", "type": "quantitative", "axis": {"orient": "top", "values": [21.5, 22, 22.5, 23, 23.5, 24, 24.5], "tickSize": -7, "labels": false, "title": null}}, "y": {"field": "y", "type": "quantitative", "axis": {"orient": "right", "values": [0, -0.5, -1, -1.5, -2, -2.5, -3, -3.5, -4], "tickSize": -10, "labels": false, "title": null}}}}
   ],
   "resolve": {"axis": {"x": "independent", "y": "independent"}}
  }
 ]}
]},
{"spacing": 93, "hconcat": [
 {"width": 433, "height": 432,
  "layer": [
   {"data": {"name": "lines"}, "transform": [{"filter": "datum.p == 4"}, {"window": [{"op": "row_number", "as": "i"}]}],
    "mark": {"type": "line", "clip": true, "color": "#333333", "strokeWidth": 1.2},
    "encoding": {
     "x": {"field": "x", "type": "quantitative", "scale": {"domain": [21.2, 24.9], "nice": false, "zero": false}, "axis": {"orient": "bottom", "values": [21.5, 22, 22.5, 23, 23.5, 24, 24.5], "format": ".1f", "tickSize": -7, "labelPadding": 20, "title": null}},
     "y": {"field": "y", "type": "quantitative", "scale": {"domain": [-4, 0], "nice": false, "zero": false}, "axis": {"orient": "left", "values": [0, -0.5, -1, -1.5, -2, -2.5, -3, -3.5, -4], "format": ".1f", "tickSize": -10, "labelPadding": 20, "title": "AGN", "titleAngle": 0, "titleX": -148, "titleY": 268, "titleAlign": "center", "titleBaseline": "alphabetic", "titleColor": "#ff0000", "titleFont": "Lato", "titleFontSize": 70, "titleFontWeight": "normal"}},
     "detail": {"field": "c", "type": "nominal"},
     "order": {"field": "i", "type": "quantitative"},
     "strokeDash": {"field": "s", "type": "nominal", "scale": {"domain": ["s", "d"], "range": [[1, 0], [12, 6]]}, "legend": null}
    }},
   {"data": {"name": "labels"}, "transform": [{"filter": "datum.p == 4"}],
    "mark": {"type": "point", "shape": "square", "filled": true, "color": "#ffffff", "opacity": 1, "size": 300, "clip": true},
    "encoding": {"x": {"field": "x", "type": "quantitative", "axis": null}, "y": {"field": "y", "type": "quantitative", "axis": null}}},
   {"data": {"name": "labels"}, "transform": [{"filter": "datum.p == 4"}],
    "mark": {"type": "text", "font": "Liberation Serif", "fontSize": 20, "color": "#1a1a1a"},
    "encoding": {"x": {"field": "x", "type": "quantitative", "axis": null}, "y": {"field": "y", "type": "quantitative", "axis": null}, "text": {"field": "t", "type": "nominal"}}},
   {"data": {"name": "labels"}, "transform": [{"filter": "datum.p == 4"}],
    "mark": {"type": "point", "opacity": 0},
    "encoding": {"x": {"field": "x", "type": "quantitative", "axis": {"orient": "top", "values": [21.5, 22, 22.5, 23, 23.5, 24, 24.5], "tickSize": -7, "labels": false, "title": null}}, "y": {"field": "y", "type": "quantitative", "axis": {"orient": "right", "values": [0, -0.5, -1, -1.5, -2, -2.5, -3, -3.5, -4], "tickSize": -10, "labels": false, "title": null}}}}
  ],
  "resolve": {"axis": {"x": "independent", "y": "independent"}}
 },
 {"spacing": 61, "hconcat": [
  {"width": 435, "height": 435,
   "layer": [
    {"data": {"name": "lines"}, "transform": [{"filter": "datum.p == 5"}, {"window": [{"op": "row_number", "as": "i"}]}],
     "mark": {"type": "line", "clip": true, "color": "#333333", "strokeWidth": 1.2},
     "encoding": {
      "x": {"field": "x", "type": "quantitative", "scale": {"domain": [21.2, 24.9], "nice": false, "zero": false}, "axis": {"orient": "bottom", "values": [21.5, 22, 22.5, 23, 23.5, 24, 24.5], "format": ".1f", "tickSize": -7, "labelPadding": 17, "title": "Log N(H)", "titleX": 219, "titleY": 90, "titleAlign": "center", "titleBaseline": "alphabetic", "titleColor": "#0000ff", "titleFont": "Lato", "titleFontSize": 65, "titleFontWeight": "normal"}},
      "y": {"field": "y", "type": "quantitative", "scale": {"domain": [-4, 0], "nice": false, "zero": false}, "axis": {"orient": "left", "values": [0, -0.5, -1, -1.5, -2, -2.5, -3, -3.5, -4], "format": ".1f", "tickSize": -10, "labelPadding": 20, "title": null}},
      "detail": {"field": "c", "type": "nominal"},
      "order": {"field": "i", "type": "quantitative"},
      "strokeDash": {"field": "s", "type": "nominal", "scale": {"domain": ["s", "d"], "range": [[1, 0], [12, 6]]}, "legend": null}
     }},
    {"data": {"name": "labels"}, "transform": [{"filter": "datum.p == 5"}],
     "mark": {"type": "point", "shape": "square", "filled": true, "color": "#ffffff", "opacity": 1, "size": 300, "clip": true},
     "encoding": {"x": {"field": "x", "type": "quantitative", "axis": null}, "y": {"field": "y", "type": "quantitative", "axis": null}}},
    {"data": {"name": "labels"}, "transform": [{"filter": "datum.p == 5"}],
     "mark": {"type": "text", "font": "Liberation Serif", "fontSize": 20, "color": "#1a1a1a"},
     "encoding": {"x": {"field": "x", "type": "quantitative", "axis": null}, "y": {"field": "y", "type": "quantitative", "axis": null}, "text": {"field": "t", "type": "nominal"}}},
    {"data": {"name": "labels"}, "transform": [{"filter": "datum.p == 5"}],
     "mark": {"type": "point", "opacity": 0},
     "encoding": {"x": {"field": "x", "type": "quantitative", "axis": {"orient": "top", "values": [21.5, 22, 22.5, 23, 23.5, 24, 24.5], "tickSize": -7, "labels": false, "title": null}}, "y": {"field": "y", "type": "quantitative", "axis": {"orient": "right", "values": [0, -0.5, -1, -1.5, -2, -2.5, -3, -3.5, -4], "tickSize": -10, "labels": false, "title": null}}}}
   ],
   "resolve": {"axis": {"x": "independent", "y": "independent"}}
  },
  {"width": 442, "height": 437,
   "layer": [
    {"data": {"name": "lines"}, "transform": [{"filter": "datum.p == 6"}, {"window": [{"op": "row_number", "as": "i"}]}],
     "mark": {"type": "line", "clip": true, "color": "#333333", "strokeWidth": 1.2},
     "encoding": {
      "x": {"field": "x", "type": "quantitative", "scale": {"domain": [21.2, 24.9], "nice": false, "zero": false}, "axis": {"orient": "bottom", "values": [21.5, 22, 22.5, 23, 23.5, 24, 24.5], "format": ".1f", "tickSize": -7, "labelPadding": 20, "title": null}},
      "y": {"field": "y", "type": "quantitative", "scale": {"domain": [-4, 0], "nice": false, "zero": false}, "axis": {"orient": "left", "values": [0, -0.5, -1, -1.5, -2, -2.5, -3, -3.5, -4], "format": ".1f", "tickSize": -10, "labelPadding": 20, "title": null}},
      "detail": {"field": "c", "type": "nominal"},
      "order": {"field": "i", "type": "quantitative"},
      "strokeDash": {"field": "s", "type": "nominal", "scale": {"domain": ["s", "d"], "range": [[1, 0], [12, 6]]}, "legend": null}
     }},
    {"data": {"name": "labels"}, "transform": [{"filter": "datum.p == 6"}],
     "mark": {"type": "point", "shape": "square", "filled": true, "color": "#ffffff", "opacity": 1, "size": 300, "clip": true},
     "encoding": {"x": {"field": "x", "type": "quantitative", "axis": null}, "y": {"field": "y", "type": "quantitative", "axis": null}}},
    {"data": {"name": "labels"}, "transform": [{"filter": "datum.p == 6"}],
     "mark": {"type": "text", "font": "Liberation Serif", "fontSize": 20, "color": "#1a1a1a"},
     "encoding": {"x": {"field": "x", "type": "quantitative", "axis": null}, "y": {"field": "y", "type": "quantitative", "axis": null}, "text": {"field": "t", "type": "nominal"},
      "angle": {"field": "a", "type": "nominal", "scale": {"domain": ["h", "v", "d", "n", "s", "r", "r2", "dn"], "range": [0, -80, -60, -40, 30, 100, 115, 85]}, "legend": null}}},
    {"data": {"name": "labels"}, "transform": [{"filter": "datum.p == 6"}],
     "mark": {"type": "point", "opacity": 0},
     "encoding": {"x": {"field": "x", "type": "quantitative", "axis": {"orient": "top", "values": [21.5, 22, 22.5, 23, 23.5, 24, 24.5], "tickSize": -7, "labels": false, "title": null}}, "y": {"field": "y", "type": "quantitative", "axis": {"orient": "right", "values": [0, -0.5, -1, -1.5, -2, -2.5, -3, -3.5, -4], "tickSize": -10, "labels": false, "title": null}}}}
   ],
   "resolve": {"axis": {"x": "independent", "y": "independent"}}
  }
 ]}
]}
]
}
